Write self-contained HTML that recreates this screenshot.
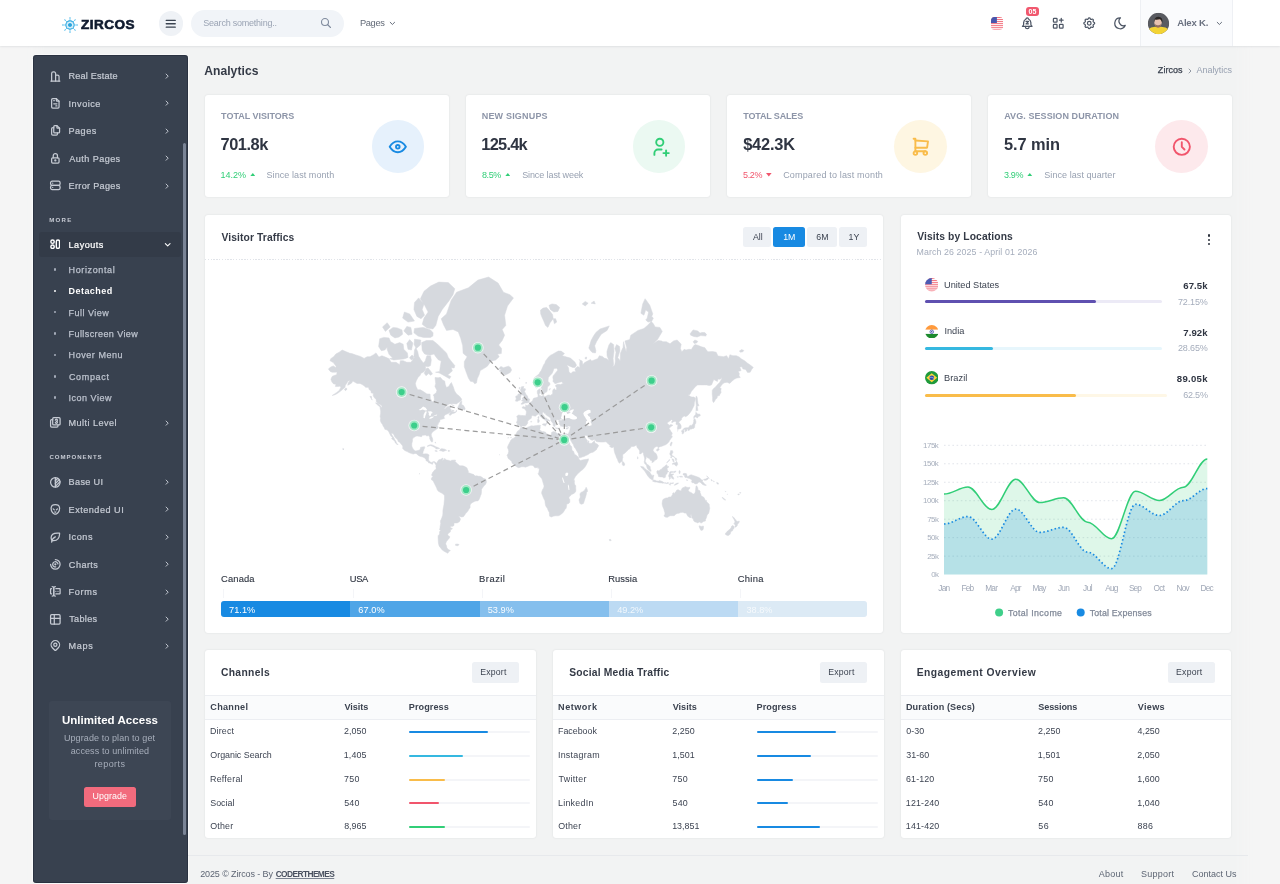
<!DOCTYPE html>
<html lang="en">
<head>
<meta charset="utf-8">
<title>Analytics | Zircos</title>
<style>
html,body{margin:0;padding:0}
body{position:relative;width:1280px;height:884px;overflow:hidden;background:#f5f5f5;font-family:"Liberation Sans",sans-serif;color:#343a46}
.b,.t,.i{position:absolute;display:block}
.t{white-space:nowrap;margin:0;font-weight:400}
h1.t,h2.t{font-weight:700}
</style>
</head>
<body>
<div class="b" style="left:44px;top:40px;width:1192px;height:860px;background:#f2f3f3;box-shadow:0 0 14px 6px #f2f3f3;"></div>
<header>
<div class="b" style="left:0px;top:0px;width:1280px;height:46.2px;background:#fff;box-shadow:0 .6px 2.2px rgba(60,70,90,.17);"></div>
<svg class="i" style="left:60.85px;top:15.5px;width:18px;height:18px" viewBox="-9 -9 18 18"><g stroke="#6cc6ee" stroke-width=".85" stroke-linecap="round"><line x1="0" y1="-4.6" x2="0" y2="-7.2" transform="rotate(0)"/><line x1="0" y1="-4.6" x2="0" y2="-7.2" transform="rotate(45)"/><line x1="0" y1="-4.6" x2="0" y2="-7.2" transform="rotate(90)"/><line x1="0" y1="-4.6" x2="0" y2="-7.2" transform="rotate(135)"/><line x1="0" y1="-4.6" x2="0" y2="-7.2" transform="rotate(180)"/><line x1="0" y1="-4.6" x2="0" y2="-7.2" transform="rotate(225)"/><line x1="0" y1="-4.6" x2="0" y2="-7.2" transform="rotate(270)"/><line x1="0" y1="-4.6" x2="0" y2="-7.2" transform="rotate(315)"/></g><g fill="#6cc6ee"><circle cx="0" cy="-7.2" r=".65" transform="rotate(0)"/><circle cx="0" cy="-7.2" r=".65" transform="rotate(45)"/><circle cx="0" cy="-7.2" r=".65" transform="rotate(90)"/><circle cx="0" cy="-7.2" r=".65" transform="rotate(135)"/><circle cx="0" cy="-7.2" r=".65" transform="rotate(180)"/><circle cx="0" cy="-7.2" r=".65" transform="rotate(225)"/><circle cx="0" cy="-7.2" r=".65" transform="rotate(270)"/><circle cx="0" cy="-7.2" r=".65" transform="rotate(315)"/></g><circle r="4.1" fill="#fff" stroke="#2aa5de" stroke-width="1.15"/><circle r="2.1" fill="#2aa5de"/><circle r="2.9" fill="none" stroke="#9ad8f3" stroke-width=".5"/></svg>
<span class="t" style="left:81.09px;top:17.44px;font-size:12.3px;line-height:16px;letter-spacing:0.432px;font-weight:700;color:#0f1a2e;-webkit-text-stroke:0.6px #0f1a2e;transform:scaleX(1.1);transform-origin:0 50%;">ZIRCOS</span>
<div class="b" style="left:158.7px;top:11.2px;width:24.4px;height:24.4px;background:#eff2f6;border-radius:13px;"></div>
<svg class="i" style="left:164.15px;top:16.65px;width:13.5px;height:13.5px;color:#3a4350;" viewBox="0 0 24 24" fill="none" stroke="currentColor" stroke-width="2.3" stroke-linecap="round" stroke-linejoin="round"><path d="M4 6l16 0"/><path d="M4 12l16 0"/><path d="M4 18l16 0"/></svg>
<div class="b" style="left:191.2px;top:9.5px;width:152.8px;height:27.5px;background:#f1f4f8;border-radius:14px;"></div>
<span class="t" style="left:203.29px;top:17.08px;font-size:9px;line-height:12px;letter-spacing:-0.227px;color:#9ba4b4;">Search something..</span>
<svg class="i" style="left:320.3px;top:17.3px;width:12px;height:12px;color:#7f8a9d;" viewBox="0 0 24 24" fill="none" stroke="currentColor" stroke-width="2.2" stroke-linecap="round" stroke-linejoin="round"><path d="M10 10m-7 0a7 7 0 1 0 14 0a7 7 0 1 0 -14 0"/><path d="M21 21l-6 -6"/></svg>
<span class="t" style="left:360.06px;top:16.68px;font-size:9.3px;line-height:12px;letter-spacing:-0.399px;color:#626a77;">Pages</span>
<svg class="i" style="left:388.4px;top:19.4px;width:8.8px;height:8.8px;color:#5d6573;" viewBox="0 0 24 24" fill="none" stroke="currentColor" stroke-width="2.6" stroke-linecap="round" stroke-linejoin="round"><path d="M6 9l6 6l6 -6"/></svg>
<svg class="i" style="left:990.9px;top:17px;width:12.2px;height:12.8px" viewBox="0 0 12.2 12.8"><defs><clipPath id="fc"><rect width="12.2" height="12.8" rx="3.6"/></clipPath></defs><g clip-path="url(#fc)"><rect width="12.2" height="12.8" fill="#fff"/><rect y="0" width="12.2" height="0.98" fill="#f3727f"/><rect y="1.97" width="12.2" height="0.98" fill="#f3727f"/><rect y="3.94" width="12.2" height="0.98" fill="#f3727f"/><rect y="5.91" width="12.2" height="0.98" fill="#f3727f"/><rect y="7.88" width="12.2" height="0.98" fill="#f3727f"/><rect y="9.85" width="12.2" height="0.98" fill="#f3727f"/><rect y="11.82" width="12.2" height="0.98" fill="#f3727f"/><rect width="5.9" height="6" fill="#4856ad"/></g></svg>
<svg class="i" style="left:1019.55px;top:15.95px;width:14.5px;height:14.5px;color:#4d5665;" viewBox="0 0 24 24" fill="none" stroke="currentColor" stroke-width="2.05" stroke-linecap="round" stroke-linejoin="round"><path d="M10 5a2 2 0 1 1 4 0a7 7 0 0 1 4 6v3a4 4 0 0 0 2 3h-16a4 4 0 0 0 2 -3v-3a7 7 0 0 1 4 -6"/><path d="M9 17v1a3 3 0 0 0 6 0v-1"/><path d="M10 9h4l-4 4h4"/></svg>
<div class="b" style="left:1026.2px;top:6.6px;width:12.6px;height:9.9px;background:#f1586e;border-radius:3px;"></div>
<span class="t" style="left:1028.58px;top:7.37px;font-size:7px;line-height:9px;font-weight:700;color:#fff;">05</span>
<svg class="i" style="left:1051.05px;top:15.95px;width:14.5px;height:14.5px;color:#4d5665;" viewBox="0 0 24 24" fill="none" stroke="currentColor" stroke-width="2.05" stroke-linecap="round" stroke-linejoin="round"><path d="M4 4m0 1a1 1 0 0 1 1 -1h4a1 1 0 0 1 1 1v4a1 1 0 0 1 -1 1h-4a1 1 0 0 1 -1 -1z"/><path d="M4 14m0 1a1 1 0 0 1 1 -1h4a1 1 0 0 1 1 1v4a1 1 0 0 1 -1 1h-4a1 1 0 0 1 -1 -1z"/><path d="M14 14m0 1a1 1 0 0 1 1 -1h4a1 1 0 0 1 1 1v4a1 1 0 0 1 -1 1h-4a1 1 0 0 1 -1 -1z"/><path d="M14 7l6 0"/><path d="M17 4l0 6"/></svg>
<svg class="i" style="left:1081.95px;top:15.95px;width:14.5px;height:14.5px;color:#4d5665;" viewBox="0 0 24 24" fill="none" stroke="currentColor" stroke-width="2.05" stroke-linecap="round" stroke-linejoin="round"><path d="M10.325 4.317c.426 -1.756 2.924 -1.756 3.35 0a1.724 1.724 0 0 0 2.573 1.066c1.543 -.94 3.31 .826 2.37 2.37a1.724 1.724 0 0 0 1.065 2.572c1.756 .426 1.756 2.924 0 3.35a1.724 1.724 0 0 0 -1.066 2.573c.94 1.543 -.826 3.31 -2.37 2.37a1.724 1.724 0 0 0 -2.572 1.065c-.426 1.756 -2.924 1.756 -3.35 0a1.724 1.724 0 0 0 -2.573 -1.066c-1.543 .94 -3.31 -.826 -2.37 -2.37a1.724 1.724 0 0 0 -1.065 -2.572c-1.756 -.426 -1.756 -2.924 0 -3.35a1.724 1.724 0 0 0 1.066 -2.573c-.94 -1.543 .826 -3.31 2.37 -2.37c1 .608 2.296 .07 2.572 -1.065z"/><path d="M9 12a3 3 0 1 0 6 0a3 3 0 0 0 -6 0"/></svg>
<svg class="i" style="left:1112.75px;top:15.95px;width:14.5px;height:14.5px;color:#4d5665;" viewBox="0 0 24 24" fill="none" stroke="currentColor" stroke-width="2.05" stroke-linecap="round" stroke-linejoin="round"><path d="M12 3c.132 0 .263 0 .393 0a7.5 7.5 0 0 0 7.92 12.446a9 9 0 1 1 -8.313 -12.454z"/></svg>
<div class="b" style="left:1139.5px;top:0px;width:93px;height:46px;background:#fafbfd;border-left:1px solid #eef0f4;border-right:1px solid #eef0f4;box-sizing:border-box;"></div>
<svg class="i" style="left:1147.3px;top:11.7px;width:23px;height:23px" viewBox="-0.75 -0.75 23.5 23.5"><defs><clipPath id="av"><circle cx="11" cy="11" r="10.9"/></clipPath></defs><circle cx="11" cy="11" r="11.4" fill="#fff"/><g clip-path="url(#av)"><rect width="22" height="22" fill="#595b61"/><path d="M0 22V17.5Q3 14.6 7.5 14.4H13.5Q18.5 14.6 22 17.5V22Z" fill="#f3d335"/><path d="M8.6 12.5H12.6V14.6Q10.6 16.2 8.6 14.6Z" fill="#b98472"/><ellipse cx="10.5" cy="9.9" rx="3.8" ry="4.7" fill="#e8c2b0"/><path d="M6.7 10.2Q6 4.6 10.6 4Q15.6 3.8 15 10.4Q14.2 7.6 12.6 6.6Q9.4 7.4 7.5 6.9Q6.8 8.4 6.7 10.2Z" fill="#2b2726"/><path d="M7.1 11.2Q7.6 14.9 10.5 14.9Q13.4 14.9 13.9 11.2Q13 12.9 10.5 12.7Q8 12.9 7.1 11.2Z" fill="#7a5548" fill-opacity=".75"/></g></svg>
<span class="t" style="left:1177.16px;top:17.17px;font-size:9.6px;line-height:12px;letter-spacing:-0.205px;font-weight:700;color:#6a7180;">Alex K.</span>
<svg class="i" style="left:1215.4px;top:19.3px;width:8.8px;height:8.8px;color:#5d6573;" viewBox="0 0 24 24" fill="none" stroke="currentColor" stroke-width="2.6" stroke-linecap="round" stroke-linejoin="round"><path d="M6 9l6 6l6 -6"/></svg>
</header>
<nav>
<div class="b" style="left:32.5px;top:55.3px;width:155.3px;height:828px;background:#38414f;border-radius:3.2px;box-shadow:0 0 0 .8px rgba(255,255,255,.7),inset 0 0 0 1px rgba(26,34,48,.45);"></div>
<svg class="i" style="left:48.85px;top:69.75px;width:12.7px;height:12.7px" viewBox="0 0 24 24" fill="none" stroke="#c6cbd4" stroke-width="2.35" stroke-linecap="round" stroke-linejoin="round"><path d="M3.5 21h17"/><path d="M5 21V6.5a3 3 0 0 1 3-3h1.5a3 3 0 0 1 3 3V21"/><path d="M12.5 9.5h3.5a3 3 0 0 1 3 3V21"/></svg><span class="t" style="left:68.58px;top:70.45px;font-size:9.1px;line-height:12px;letter-spacing:0.192px;color:#c6cbd4;-webkit-text-stroke:0.22px #c6cbd4;">Real Estate</span><svg class="i" style="left:162.65px;top:72.05px;width:8.3px;height:8.3px;color:#c6cbd4;" viewBox="0 0 24 24" fill="none" stroke="currentColor" stroke-width="2.8" stroke-linecap="round" stroke-linejoin="round"><path d="M9 6l6 6l-6 6"/></svg>
<svg class="i" style="left:48.85px;top:97.15px;width:12.7px;height:12.7px;color:#c6cbd4;" viewBox="0 0 24 24" fill="none" stroke="currentColor" stroke-width="2.35" stroke-linecap="round" stroke-linejoin="round"><path d="M14 3v4a1 1 0 0 0 1 1h4"/><path d="M17 21h-10a2 2 0 0 1 -2 -2v-14a2 2 0 0 1 2 -2h7l5 5v11a2 2 0 0 1 -2 2z"/><path d="M9 7l1 0"/><path d="M9 13l6 0"/><path d="M13 17l2 0"/></svg><span class="t" style="left:68.49px;top:97.85px;font-size:9.1px;line-height:12px;letter-spacing:0.51px;color:#c6cbd4;-webkit-text-stroke:0.22px #c6cbd4;">Invoice</span><svg class="i" style="left:162.65px;top:99.45px;width:8.3px;height:8.3px;color:#c6cbd4;" viewBox="0 0 24 24" fill="none" stroke="currentColor" stroke-width="2.8" stroke-linecap="round" stroke-linejoin="round"><path d="M9 6l6 6l-6 6"/></svg>
<svg class="i" style="left:48.85px;top:124.45px;width:12.7px;height:12.7px;color:#c6cbd4;" viewBox="0 0 24 24" fill="none" stroke="currentColor" stroke-width="2.35" stroke-linecap="round" stroke-linejoin="round"><path d="M15 3v4a1 1 0 0 0 1 1h4"/><path d="M18 17h-7a2 2 0 0 1 -2 -2v-10a2 2 0 0 1 2 -2h4l5 5v7a2 2 0 0 1 -2 2z"/><path d="M16 17v2a2 2 0 0 1 -2 2h-7a2 2 0 0 1 -2 -2v-10a2 2 0 0 1 2 -2h2"/></svg><span class="t" style="left:68.58px;top:125.15px;font-size:9.1px;line-height:12px;letter-spacing:0.457px;color:#c6cbd4;-webkit-text-stroke:0.22px #c6cbd4;">Pages</span><svg class="i" style="left:162.65px;top:126.75px;width:8.3px;height:8.3px;color:#c6cbd4;" viewBox="0 0 24 24" fill="none" stroke="currentColor" stroke-width="2.8" stroke-linecap="round" stroke-linejoin="round"><path d="M9 6l6 6l-6 6"/></svg>
<svg class="i" style="left:48.85px;top:151.85px;width:12.7px;height:12.7px;color:#c6cbd4;" viewBox="0 0 24 24" fill="none" stroke="currentColor" stroke-width="2.35" stroke-linecap="round" stroke-linejoin="round"><path d="M5 13a2 2 0 0 1 2 -2h10a2 2 0 0 1 2 2v6a2 2 0 0 1 -2 2h-10a2 2 0 0 1 -2 -2v-6z"/><path d="M11 16a1 1 0 1 0 2 0a1 1 0 0 0 -2 0"/><path d="M8 11v-4a4 4 0 1 1 8 0v4"/></svg><span class="t" style="left:69.31px;top:152.55px;font-size:9.1px;line-height:12px;letter-spacing:0.428px;color:#c6cbd4;-webkit-text-stroke:0.22px #c6cbd4;">Auth Pages</span><svg class="i" style="left:162.65px;top:154.15px;width:8.3px;height:8.3px;color:#c6cbd4;" viewBox="0 0 24 24" fill="none" stroke="currentColor" stroke-width="2.8" stroke-linecap="round" stroke-linejoin="round"><path d="M9 6l6 6l-6 6"/></svg>
<svg class="i" style="left:48.85px;top:179.25px;width:12.7px;height:12.7px;color:#c6cbd4;" viewBox="0 0 24 24" fill="none" stroke="currentColor" stroke-width="2.35" stroke-linecap="round" stroke-linejoin="round"><path d="M3 4m0 3a3 3 0 0 1 3 -3h12a3 3 0 0 1 3 3v2a3 3 0 0 1 -3 3h-12a3 3 0 0 1 -3 -3z"/><path d="M3 12m0 3a3 3 0 0 1 3 -3h12a3 3 0 0 1 3 3v2a3 3 0 0 1 -3 3h-12a3 3 0 0 1 -3 -3z"/><path d="M7 8l0 .01"/><path d="M7 16l0 .01"/></svg><span class="t" style="left:68.58px;top:179.95px;font-size:9.1px;line-height:12px;letter-spacing:0.318px;color:#c6cbd4;-webkit-text-stroke:0.22px #c6cbd4;">Error Pages</span><svg class="i" style="left:162.65px;top:181.55px;width:8.3px;height:8.3px;color:#c6cbd4;" viewBox="0 0 24 24" fill="none" stroke="currentColor" stroke-width="2.8" stroke-linecap="round" stroke-linejoin="round"><path d="M9 6l6 6l-6 6"/></svg>
<span class="t" style="left:49.3px;top:215.99px;font-size:6.1px;line-height:8px;letter-spacing:1.237px;font-weight:700;color:#c8ccd5;">MORE</span>
<div class="b" style="left:39.4px;top:232px;width:141.6px;height:24.6px;background:#333b48;border-radius:3px;"></div>
<svg class="i" style="left:49.8px;top:238.8px;width:10.4px;height:10.4px" viewBox="0 0 11 11" fill="none" stroke="#fff" stroke-width="1.5"><circle cx="2.7" cy="2.8" r="1.8"/><circle cx="2.7" cy="8.2" r="1.8"/><rect x="6.7" y="1" width="3.4" height="9" rx="1.7"/></svg><span class="t" style="left:68.58px;top:238.55px;font-size:9.1px;line-height:12px;letter-spacing:0.472px;color:#fff;-webkit-text-stroke:0.22px #fff;">Layouts</span><svg class="i" style="left:162.5px;top:240.2px;width:9.4px;height:9.4px;color:#fff;" viewBox="0 0 24 24" fill="none" stroke="currentColor" stroke-width="2.8" stroke-linecap="round" stroke-linejoin="round"><path d="M6 9l6 6l6 -6"/></svg>
<div class="b" style="left:53.8px;top:268.3px;width:2.6px;height:2.6px;background:#a4abb8;border-radius:0.9px;"></div>
<span class="t" style="left:68.61px;top:264.18px;font-size:9px;line-height:12px;letter-spacing:0.623px;color:#bcc2cd;-webkit-text-stroke:0.25px #bcc2cd;">Horizontal</span>
<div class="b" style="left:53.8px;top:289.6px;width:2.6px;height:2.6px;background:#f5f6f8;border-radius:0.9px;"></div>
<span class="t" style="left:68.62px;top:285.48px;font-size:9px;line-height:12px;letter-spacing:0.439px;font-weight:700;color:#fff;">Detached</span>
<div class="b" style="left:53.8px;top:310.9px;width:2.6px;height:2.6px;background:#a4abb8;border-radius:0.9px;"></div>
<span class="t" style="left:68.61px;top:306.78px;font-size:9px;line-height:12px;letter-spacing:0.464px;color:#bcc2cd;-webkit-text-stroke:0.25px #bcc2cd;">Full View</span>
<div class="b" style="left:53.8px;top:332.3px;width:2.6px;height:2.6px;background:#a4abb8;border-radius:0.9px;"></div>
<span class="t" style="left:68.61px;top:328.18px;font-size:9px;line-height:12px;letter-spacing:0.412px;color:#bcc2cd;-webkit-text-stroke:0.25px #bcc2cd;">Fullscreen View</span>
<div class="b" style="left:53.8px;top:353.6px;width:2.6px;height:2.6px;background:#a4abb8;border-radius:0.9px;"></div>
<span class="t" style="left:68.61px;top:349.48px;font-size:9px;line-height:12px;letter-spacing:0.55px;color:#bcc2cd;-webkit-text-stroke:0.25px #bcc2cd;">Hover Menu</span>
<div class="b" style="left:53.8px;top:375px;width:2.6px;height:2.6px;background:#a4abb8;border-radius:0.9px;"></div>
<span class="t" style="left:68.88px;top:370.88px;font-size:9px;line-height:12px;letter-spacing:0.683px;color:#bcc2cd;-webkit-text-stroke:0.25px #bcc2cd;">Compact</span>
<div class="b" style="left:53.8px;top:396.4px;width:2.6px;height:2.6px;background:#a4abb8;border-radius:0.9px;"></div>
<span class="t" style="left:68.52px;top:392.28px;font-size:9px;line-height:12px;letter-spacing:0.51px;color:#bcc2cd;-webkit-text-stroke:0.25px #bcc2cd;">Icon View</span>
<svg class="i" style="left:48.85px;top:416.25px;width:12.7px;height:12.7px;color:#c6cbd4;" viewBox="0 0 24 24" fill="none" stroke="currentColor" stroke-width="2.35" stroke-linecap="round" stroke-linejoin="round"><path d="M7 3m0 2a2 2 0 0 1 2 -2h10a2 2 0 0 1 2 2v10a2 2 0 0 1 -2 2h-10a2 2 0 0 1 -2 -2z"/><path d="M17 17v2a2 2 0 0 1 -2 2h-10a2 2 0 0 1 -2 -2v-10a2 2 0 0 1 2 -2h2"/><path d="M14 10a2 2 0 1 0 -2 -2"/><path d="M12 12a2 2 0 1 0 2 -2"/></svg><span class="t" style="left:68.58px;top:416.95px;font-size:9.1px;line-height:12px;letter-spacing:0.456px;color:#c6cbd4;-webkit-text-stroke:0.22px #c6cbd4;">Multi Level</span><svg class="i" style="left:162.65px;top:418.55px;width:8.3px;height:8.3px;color:#c6cbd4;" viewBox="0 0 24 24" fill="none" stroke="currentColor" stroke-width="2.8" stroke-linecap="round" stroke-linejoin="round"><path d="M9 6l6 6l-6 6"/></svg>
<span class="t" style="left:49.46px;top:453.19px;font-size:6.1px;line-height:8px;letter-spacing:0.95px;font-weight:700;color:#c8ccd5;">COMPONENTS</span>
<svg class="i" style="left:48.85px;top:475.75px;width:12.7px;height:12.7px;color:#c6cbd4;" viewBox="0 0 24 24" fill="none" stroke="currentColor" stroke-width="2.35" stroke-linecap="round" stroke-linejoin="round"><path d="M12 12m-9 0a9 9 0 1 0 18 0a9 9 0 1 0 -18 0"/><path d="M12 3l0 18"/><path d="M12 9l4.65 -4.65"/><path d="M12 14.3l7.37 -7.37"/><path d="M12 19.6l8.85 -8.85"/></svg><span class="t" style="left:68.58px;top:476.45px;font-size:9.1px;line-height:12px;letter-spacing:0.339px;color:#c6cbd4;-webkit-text-stroke:0.22px #c6cbd4;">Base UI</span><svg class="i" style="left:162.65px;top:478.05px;width:8.3px;height:8.3px;color:#c6cbd4;" viewBox="0 0 24 24" fill="none" stroke="currentColor" stroke-width="2.8" stroke-linecap="round" stroke-linejoin="round"><path d="M9 6l6 6l-6 6"/></svg>
<svg class="i" style="left:48.85px;top:503.15px;width:12.7px;height:12.7px;color:#c6cbd4;" viewBox="0 0 24 24" fill="none" stroke="currentColor" stroke-width="2.35" stroke-linecap="round" stroke-linejoin="round"><path d="M11 17a2.5 2.5 0 0 0 2 0"/><path d="M12 3c-4.664 0 -7.396 2.331 -7.862 5.595a11.816 11.816 0 0 0 2 8.592a10.777 10.777 0 0 0 3.199 3.064c1.666 1 3.664 1 5.33 0a10.777 10.777 0 0 0 3.199 -3.064a11.89 11.89 0 0 0 2 -8.592c-.466 -3.265 -3.198 -5.595 -7.862 -5.595z"/><path d="M8 11l2 2"/><path d="M16 11l-2 2"/></svg><span class="t" style="left:68.58px;top:503.85px;font-size:9.1px;line-height:12px;letter-spacing:0.503px;color:#c6cbd4;-webkit-text-stroke:0.22px #c6cbd4;">Extended UI</span><svg class="i" style="left:162.65px;top:505.45px;width:8.3px;height:8.3px;color:#c6cbd4;" viewBox="0 0 24 24" fill="none" stroke="currentColor" stroke-width="2.8" stroke-linecap="round" stroke-linejoin="round"><path d="M9 6l6 6l-6 6"/></svg>
<svg class="i" style="left:48.85px;top:530.55px;width:12.7px;height:12.7px;color:#c6cbd4;" viewBox="0 0 24 24" fill="none" stroke="currentColor" stroke-width="2.35" stroke-linecap="round" stroke-linejoin="round"><path d="M5 21c.5 -4.5 2.5 -8 7 -10"/><path d="M9 18c6.218 0 10.5 -3.288 11 -12v-2h-4.014c-9 0 -11.986 4 -12 9c0 1 0 3 2 5h3z"/></svg><span class="t" style="left:68.49px;top:531.25px;font-size:9.1px;line-height:12px;letter-spacing:0.567px;color:#c6cbd4;-webkit-text-stroke:0.22px #c6cbd4;">Icons</span><svg class="i" style="left:162.65px;top:532.85px;width:8.3px;height:8.3px;color:#c6cbd4;" viewBox="0 0 24 24" fill="none" stroke="currentColor" stroke-width="2.8" stroke-linecap="round" stroke-linejoin="round"><path d="M9 6l6 6l-6 6"/></svg>
<svg class="i" style="left:48.85px;top:557.95px;width:12.7px;height:12.7px;color:#c6cbd4;" viewBox="0 0 24 24" fill="none" stroke="currentColor" stroke-width="2.35" stroke-linecap="round" stroke-linejoin="round"><path d="M12 12m-1 0a1 1 0 1 0 2 0a1 1 0 1 0 -2 0"/><path d="M16.924 11.132a5 5 0 1 0 -4.056 5.792"/><path d="M3 12a9 9 0 1 0 9 -9"/></svg><span class="t" style="left:68.86px;top:558.65px;font-size:9.1px;line-height:12px;letter-spacing:0.451px;color:#c6cbd4;-webkit-text-stroke:0.22px #c6cbd4;">Charts</span><svg class="i" style="left:162.65px;top:560.25px;width:8.3px;height:8.3px;color:#c6cbd4;" viewBox="0 0 24 24" fill="none" stroke="currentColor" stroke-width="2.8" stroke-linecap="round" stroke-linejoin="round"><path d="M9 6l6 6l-6 6"/></svg>
<svg class="i" style="left:48.85px;top:585.25px;width:12.7px;height:12.7px;color:#c6cbd4;" viewBox="0 0 24 24" fill="none" stroke="currentColor" stroke-width="2.35" stroke-linecap="round" stroke-linejoin="round"><path d="M12 3a3 3 0 0 0 -3 3v12a3 3 0 0 0 3 3"/><path d="M6 3a3 3 0 0 1 3 3v12a3 3 0 0 1 -3 3"/><path d="M13 7h7a1 1 0 0 1 1 1v8a1 1 0 0 1 -1 1h-7"/><path d="M5 7h-1a1 1 0 0 0 -1 1v8a1 1 0 0 0 1 1h1"/><path d="M17 12h.01"/><path d="M13 12h.01"/></svg><span class="t" style="left:68.58px;top:585.95px;font-size:9.1px;line-height:12px;letter-spacing:0.682px;color:#c6cbd4;-webkit-text-stroke:0.22px #c6cbd4;">Forms</span><svg class="i" style="left:162.65px;top:587.55px;width:8.3px;height:8.3px;color:#c6cbd4;" viewBox="0 0 24 24" fill="none" stroke="currentColor" stroke-width="2.8" stroke-linecap="round" stroke-linejoin="round"><path d="M9 6l6 6l-6 6"/></svg>
<svg class="i" style="left:48.85px;top:612.65px;width:12.7px;height:12.7px;color:#c6cbd4;" viewBox="0 0 24 24" fill="none" stroke="currentColor" stroke-width="2.35" stroke-linecap="round" stroke-linejoin="round"><path d="M3 5a2 2 0 0 1 2 -2h14a2 2 0 0 1 2 2v14a2 2 0 0 1 -2 2h-14a2 2 0 0 1 -2 -2v-14z"/><path d="M3 10h18"/><path d="M10 3v18"/></svg><span class="t" style="left:69.13px;top:613.35px;font-size:9.1px;line-height:12px;letter-spacing:0.336px;color:#c6cbd4;-webkit-text-stroke:0.22px #c6cbd4;">Tables</span><svg class="i" style="left:162.65px;top:614.95px;width:8.3px;height:8.3px;color:#c6cbd4;" viewBox="0 0 24 24" fill="none" stroke="currentColor" stroke-width="2.8" stroke-linecap="round" stroke-linejoin="round"><path d="M9 6l6 6l-6 6"/></svg>
<svg class="i" style="left:48.85px;top:639.45px;width:12.7px;height:12.7px;color:#c6cbd4;" viewBox="0 0 24 24" fill="none" stroke="currentColor" stroke-width="2.35" stroke-linecap="round" stroke-linejoin="round"><path d="M9 11a3 3 0 1 0 6 0a3 3 0 0 0 -6 0"/><path d="M17.657 16.657l-4.243 4.243a2 2 0 0 1 -2.827 0l-4.244 -4.243a8 8 0 1 1 11.314 0z"/></svg><span class="t" style="left:68.58px;top:640.15px;font-size:9.1px;line-height:12px;letter-spacing:0.659px;color:#c6cbd4;-webkit-text-stroke:0.22px #c6cbd4;">Maps</span><svg class="i" style="left:162.65px;top:641.75px;width:8.3px;height:8.3px;color:#c6cbd4;" viewBox="0 0 24 24" fill="none" stroke="currentColor" stroke-width="2.8" stroke-linecap="round" stroke-linejoin="round"><path d="M9 6l6 6l-6 6"/></svg>
<div class="b" style="left:49.2px;top:701.3px;width:122.1px;height:118.8px;background:#3d4654;border-radius:3px;"></div>
<span class="t" style="left:61.91px;top:712.62px;font-size:11.5px;line-height:15px;letter-spacing:0.043px;font-weight:700;color:#fff;">Unlimited Access</span>
<span class="t" style="left:63.92px;top:731.88px;font-size:9px;line-height:12px;letter-spacing:0.096px;color:#a7aebb;">Upgrade to plan to get</span>
<span class="t" style="left:70.69px;top:744.98px;font-size:9px;line-height:12px;letter-spacing:0.103px;color:#a7aebb;">access to unlimited</span>
<span class="t" style="left:94.47px;top:757.88px;font-size:9px;line-height:12px;letter-spacing:0.402px;color:#a7aebb;">reports</span>
<div class="b" style="left:83.9px;top:787px;width:52.1px;height:20px;background:#f26b7d;border-radius:2.5px;"></div>
<span class="t" style="left:92.58px;top:790.32px;font-size:8.9px;line-height:12px;letter-spacing:0.065px;color:#fff;">Upgrade</span>
<div class="b" style="left:183.3px;top:142.6px;width:3.2px;height:692.4px;background:#7a8496;border-radius:2px;"></div>
</nav>
<main>
<h1 class="t" style="left:204.2px;top:63.31px;font-size:12.1px;line-height:16px;letter-spacing:0.055px;font-weight:700;color:#343a46;">Analytics</h1>
<span class="t" style="left:1157.86px;top:64.38px;font-size:9px;line-height:12px;letter-spacing:0.031px;color:#3c4350;-webkit-text-stroke:0.25px #3c4350;">Zircos</span>
<svg class="i" style="left:1185.6px;top:66.6px;width:8px;height:8px;color:#7d8593;" viewBox="0 0 24 24" fill="none" stroke="currentColor" stroke-width="2.5" stroke-linecap="round" stroke-linejoin="round"><path d="M9 6l6 6l-6 6"/></svg>
<span class="t" style="left:1196.6px;top:64.38px;font-size:9px;line-height:12px;letter-spacing:-0.061px;color:#98a1b1;">Analytics</span>
<div class="b" style="left:204.8px;top:94.6px;width:244px;height:102.6px;background:#fff;border-radius:3px;box-shadow:0 0 2px rgba(50,60,80,.13);"></div>
<span class="t" style="left:221.11px;top:109.78px;font-size:9px;line-height:12px;letter-spacing:-0.019px;font-weight:700;color:#8d95a8;">TOTAL VISITORS</span>
<span class="t" style="left:220.54px;top:133.72px;font-size:16.4px;line-height:21px;letter-spacing:-0.482px;font-weight:700;color:#2f3542;">701.8k</span>
<span class="t" style="left:220.53px;top:169.08px;font-size:9px;line-height:12px;letter-spacing:0.019px;color:#31ce77;">14.2%</span>
<svg class="i" style="left:249.6px;top:172.6px;width:5.6px;height:3.6px" viewBox="0 0 10 6"><path d="M0 6L5 0L10 6Z" fill="#31ce77"/></svg>
<span class="t" style="left:266.5px;top:169.08px;font-size:9px;line-height:12px;letter-spacing:0.076px;color:#98a1b1;">Since last month</span>
<div class="b" style="left:371.5px;top:119.65px;width:52.9px;height:52.9px;background:#e6f1fc;border-radius:27px;"></div>
<svg class="i" style="left:387.45px;top:135.55px;width:21.6px;height:21.6px;color:#188ae2;" viewBox="0 0 24 24" fill="none" stroke="currentColor" stroke-width="2.1" stroke-linecap="round" stroke-linejoin="round"><path d="M10 12a2 2 0 1 0 4 0a2 2 0 0 0 -4 0"/><path d="M21 12c-2.4 4 -5.4 6 -9 6c-3.6 0 -6.6 -2 -9 -6c2.4 -4 5.4 -6 9 -6c3.6 0 6.6 2 9 6"/></svg>
<div class="b" style="left:465.87px;top:94.6px;width:244px;height:102.6px;background:#fff;border-radius:3px;box-shadow:0 0 2px rgba(50,60,80,.13);"></div>
<span class="t" style="left:481.69px;top:109.78px;font-size:9px;line-height:12px;letter-spacing:0.191px;font-weight:700;color:#8d95a8;">NEW SIGNUPS</span>
<span class="t" style="left:481.29px;top:133.72px;font-size:16.4px;line-height:21px;letter-spacing:-0.736px;font-weight:700;color:#2f3542;">125.4k</span>
<span class="t" style="left:481.91px;top:169.08px;font-size:9px;line-height:12px;letter-spacing:-0.348px;color:#31ce77;">8.5%</span>
<svg class="i" style="left:504.87px;top:172.6px;width:5.6px;height:3.6px" viewBox="0 0 10 6"><path d="M0 6L5 0L10 6Z" fill="#31ce77"/></svg>
<span class="t" style="left:522.16px;top:169.08px;font-size:9px;line-height:12px;letter-spacing:-0.099px;color:#98a1b1;">Since last week</span>
<div class="b" style="left:632.57px;top:119.65px;width:52.9px;height:52.9px;background:#ebf9f2;border-radius:27px;"></div>
<svg class="i" style="left:648.52px;top:135.55px;width:21.6px;height:21.6px;color:#31ce77;" viewBox="0 0 24 24" fill="none" stroke="currentColor" stroke-width="2.1" stroke-linecap="round" stroke-linejoin="round"><path d="M8 7a4 4 0 1 0 8 0a4 4 0 0 0 -8 0"/><path d="M16 19h6"/><path d="M19 16v6"/><path d="M6 21v-2a4 4 0 0 1 4 -4h4"/></svg>
<div class="b" style="left:726.94px;top:94.6px;width:244px;height:102.6px;background:#fff;border-radius:3px;box-shadow:0 0 2px rgba(50,60,80,.13);"></div>
<span class="t" style="left:743.25px;top:109.78px;font-size:9px;line-height:12px;letter-spacing:-0.156px;font-weight:700;color:#8d95a8;">TOTAL SALES</span>
<span class="t" style="left:743.18px;top:133.72px;font-size:16.4px;line-height:21px;letter-spacing:-0.209px;font-weight:700;color:#2f3542;">$42.3K</span>
<span class="t" style="left:742.98px;top:169.08px;font-size:9px;line-height:12px;letter-spacing:-0.348px;color:#f1556c;">5.2%</span>
<svg class="i" style="left:765.94px;top:173.4px;width:5.6px;height:3.6px" viewBox="0 0 10 6"><path d="M0 0L5 6L10 0Z" fill="#f1556c"/></svg>
<span class="t" style="left:783.19px;top:169.08px;font-size:9px;line-height:12px;letter-spacing:0.17px;color:#98a1b1;">Compared to last month</span>
<div class="b" style="left:893.64px;top:119.65px;width:52.9px;height:52.9px;background:#fef6e2;border-radius:27px;"></div>
<svg class="i" style="left:909.59px;top:135.55px;width:21.6px;height:21.6px;color:#f9bc4a;" viewBox="0 0 24 24" fill="none" stroke="currentColor" stroke-width="2.1" stroke-linecap="round" stroke-linejoin="round"><path d="M6 19m-2 0a2 2 0 1 0 4 0a2 2 0 1 0 -4 0"/><path d="M17 19m-2 0a2 2 0 1 0 4 0a2 2 0 1 0 -4 0"/><path d="M17 17h-11v-14h-2"/><path d="M6 5l14 1l-1 7h-13"/></svg>
<div class="b" style="left:988.01px;top:94.6px;width:244px;height:102.6px;background:#fff;border-radius:3px;box-shadow:0 0 2px rgba(50,60,80,.13);"></div>
<span class="t" style="left:1004.18px;top:109.78px;font-size:9px;line-height:12px;letter-spacing:0.082px;font-weight:700;color:#8d95a8;">AVG. SESSION DURATION</span>
<span class="t" style="left:1003.92px;top:133.72px;font-size:16.4px;line-height:21px;letter-spacing:-0.07px;font-weight:700;color:#2f3542;">5.7 min</span>
<span class="t" style="left:1004.09px;top:169.08px;font-size:9px;line-height:12px;letter-spacing:-0.363px;color:#31ce77;">3.9%</span>
<svg class="i" style="left:1027.01px;top:172.6px;width:5.6px;height:3.6px" viewBox="0 0 10 6"><path d="M0 6L5 0L10 6Z" fill="#31ce77"/></svg>
<span class="t" style="left:1044.31px;top:169.08px;font-size:9px;line-height:12px;letter-spacing:0.063px;color:#98a1b1;">Since last quarter</span>
<div class="b" style="left:1154.71px;top:119.65px;width:52.9px;height:52.9px;background:#fde9ec;border-radius:27px;"></div>
<svg class="i" style="left:1170.66px;top:135.55px;width:21.6px;height:21.6px;color:#f1556c;" viewBox="0 0 24 24" fill="none" stroke="currentColor" stroke-width="2.1" stroke-linecap="round" stroke-linejoin="round"><path d="M3 12a9 9 0 1 0 18 0a9 9 0 0 0 -18 0"/><path d="M12 7v5l3 3"/></svg>
<div class="b" style="left:204.8px;top:214.7px;width:678.7px;height:418.7px;background:#fff;border-radius:3px;box-shadow:0 0 2px rgba(50,60,80,.13);"></div>
<h2 class="t" style="left:221.55px;top:230.53px;font-size:10.3px;line-height:13px;letter-spacing:0.089px;font-weight:700;color:#343a46;">Visitor Traffics</h2>
<div class="b" style="left:204.8px;top:259.1px;width:678.7px;height:1px;background:repeating-linear-gradient(90deg,#e1e4e9 0 1.4px,transparent 1.4px 2.8px);"></div>
<div class="b" style="left:743.4px;top:226.7px;width:27.8px;height:20.6px;background:#eef1f5;border-radius:2.5px;"></div>
<span class="t" style="left:752.88px;top:231.55px;font-size:8.8px;line-height:11px;color:#3c4350;">All</span>
<div class="b" style="left:773.4px;top:226.7px;width:31.3px;height:20.6px;background:#188ae2;border-radius:2.5px;"></div>
<span class="t" style="left:783.16px;top:231.55px;font-size:8.8px;line-height:11px;color:#fff;">1M</span>
<div class="b" style="left:807px;top:226.7px;width:30.2px;height:20.6px;background:#eef1f5;border-radius:2.5px;"></div>
<span class="t" style="left:816.32px;top:231.55px;font-size:8.8px;line-height:11px;color:#3c4350;">6M</span>
<div class="b" style="left:839.4px;top:226.7px;width:27.8px;height:20.6px;background:#eef1f5;border-radius:2.5px;"></div>
<span class="t" style="left:848.59px;top:231.55px;font-size:8.8px;line-height:11px;color:#3c4350;">1Y</span>
<svg class="i" style="left:300px;top:262px;width:480px;height:310px" viewBox="0 0 480 310"><path fill="#d6d9de" stroke="#d6d9de" stroke-width=".5" stroke-linejoin="round" d="M28.4 106.9L30.6 105.1L33.3 103.9L35.6 105.4L36.2 104.2L34.9 102.7L33.3 100.6L30 98.7L30.7 96.7L33.9 94.4L35.8 92L39.2 90.2L42.2 88L46.3 89.8L49.9 91.3L51.8 91.6L55.8 93L60.5 94.4L64.1 96.4L67.1 94.7L70 94.7L73.6 92.7L76 90.9L78.9 95.1L81.9 93.7L85.4 95.1L89 96.7L91.2 100.3L96.1 100.3L99.7 102.7L100.3 98.7L103.2 98.7L106.8 100.3L110.9 100.3L112.7 98L113.9 94.7L114.5 88L115.7 85.7L117.7 89.5L118.6 94.1L121 98L123.4 100.9L125.2 99L126.9 93.7L130.5 93.7L131.3 98L130.5 103.6L128.1 104.8L125.5 104.2L125.7 107.2L124 109.7L121 111.3L120.2 113.2L118 115.5L116.3 118.8L115.4 121.4L116 124.2L117.7 127.8L120.4 127.8L123.4 129.6L126.9 131.9L130.1 132.1L130.3 136.5L131.3 138.1L132.1 139.8L133.7 139.4L134.3 137.3L134 134.5L133.2 133.1L136.2 130.8L136.9 128.3L134.9 124.5L135.7 121.4L135 115.5L138.2 115.8L140.3 115.3L142.9 118.3L144.7 119L145.3 122.6L146.5 125.6L148.9 124.2L150 122.2L151.4 120.5L153.3 124.9L154.6 128.9L156.6 132.1L159.2 133.9L161.3 136.5L161.8 138.1L160.1 139.6L158 140.8L156.6 141.9L153 141.7L149 141.9L146.5 144.1L144.1 147.1L145 146.9L147.7 144.4L150.6 143.7L151.6 144.4L150 146.2L150.9 147.6L151.2 149L153.6 149.7L155.4 150.2L156.6 148.1L156.5 149.7L154.8 150.9L152.3 151.7L149.9 153.5L149.1 152.2L150.9 150.2L149.5 150.7L148.3 151.5L145.9 152.5L144.5 153.4L143.8 155L144.7 156.3L142.9 156.9L140.6 157.5L140 158.3L139.7 159.7L138.8 160.8L138.2 159.9L138.4 161.7L137.6 163.5L137.1 161.4L136.9 163.3L137.7 164.2L138.2 166.1L136.8 167L135.3 168.1L133.8 169.1L131.9 170.7L131.2 172.8L131.7 174.7L132.3 175.8L132.8 177.9L132.6 179.8L131.6 180.1L130.7 178.7L129.7 176.7L129.7 175.1L128.4 173.6L126.9 174L125.4 173L123.6 173.2L122.2 173.2L121.7 174.7L120.8 174.7L119.2 174.3L116.9 173.9L115.3 174.5L113.5 175.8L112.4 177L112.5 179.1L111.8 181.6L111.8 183.9L112.5 185.9L113.8 187.7L114.7 188.5L115.8 189L117.8 188.5L119.5 188.1L120.3 186.9L120.5 185.4L122.2 184.9L124.6 184.7L124.8 185.7L124 187.2L123.6 188.8L123 189.8L123 191.2L122.4 191.9L124 191.9L125.7 191.8L127.5 191.9L129.1 192.9L128.7 194.7L128.6 196.6L128.5 197.9L129.3 199L130.3 200.1L131.7 200.4L133 199.7L134.3 199.6L135.8 200.5L136.5 201.3L137.2 200.2L138.1 198.5L139 197.7L140.9 197.3L142.7 196L143.2 196.8L142.5 197.7L142.8 198.7L143.2 197.9L144.5 197.2L144.7 196.3L145.2 197.2L146.7 198.1L148.4 198.3L150.4 198.9L151.6 198.3L154.2 198.1L153.5 198.7L155.4 199.6L156.3 200.8L158 202.2L159.8 203.8L162.3 203.8L163.8 204.1L165.7 205.1L167 205.9L167.7 208.1L168.4 209L168.1 210.5L170.1 211.3L171.4 211.7L173.8 212.6L175.2 214L176.5 213.7L178.5 214.3L180.3 214.3L182.1 215.3L183.6 216.6L185.7 217.1L186.4 219.2L186.3 220.7L185.4 222.5L183.8 224.1L182.3 226.2L181.5 227.2L181.5 229.5L181.2 232.2L180.5 233.8L179.9 235.6L179.1 237.4L177.9 238.9L176 238.9L174.4 239.6L172.6 240.4L170.8 241.8L170.1 243.1L170.1 245.5L168.9 247.3L167.6 249.6L165.9 251.3L164.4 253.4L163.4 254.7L161.5 255L159.9 254.4L158.5 254.1L160 256L160.5 257.3L159.4 259.8L157.2 260.9L154 261L154 263.5L152.2 264.4L150.6 264L150.6 265.9L152.2 266.2L152.2 267.1L150.5 267.8L150.3 270.1L148.6 271.1L147.7 272.5L148.3 273.8L149.7 274.5L149.5 276.1L147.7 277.9L146.4 279.7L145.7 281.4L146 282.7L146.6 284L146.7 285.3L147.9 287.3L150.4 288.6L148.9 289.5L147.9 291.3L145.9 290.3L144.1 289.3L142.3 288.1L140.6 285.9L139.1 283.9L138.4 281L138.2 277.7L138.1 275.6L138.1 273.7L139.6 272.1L139.5 269.8L140.8 268.3L139.6 268L140 265.5L140.2 263.7L140.7 261.8L140.4 259.1L141 257.7L141.9 255.5L142.7 253.2L142.9 251L142.9 248.5L143.2 246.6L143.6 244.4L144 242.2L144.2 239.6L144.5 237.1L144.5 234.9L144.3 233.1L143.1 232.1L141.6 231.1L139.7 230.1L138.4 229.3L137.2 227.7L136.7 226L136.1 224.9L135.2 223.1L134.4 221.5L133.5 219.7L132.9 218.6L131.6 218L131.3 216.5L132.1 215.3L132.9 214.5L132.5 213.9L131.7 213.5L131.8 212.1L132.5 211.1L132.8 210L134 209.1L134.4 208.1L135.7 207.6L136.1 206.3L135.8 204.6L136 203.1L135.3 202.2L134.9 201.4L134.6 200.7L133.5 200.2L132.5 201L132.9 202L131.8 202.3L131 201.5L129.5 201L128.5 200.9L128.5 199.9L127.2 199.3L126.7 199.2L126 198.5L126.1 197.7L125 196.4L124 195.4L122.8 195.1L121 194.6L119.3 194.1L118.3 193.4L116.4 191.7L115.1 191.4L113.3 192.1L111.5 191.6L109.3 190.7L107.1 189.6L105.1 188.7L103.9 187.8L102.5 186.3L102.9 184.9L102.3 183.4L101.1 182.1L99.7 180.3L98 179.4L97.8 178L96.5 176.7L94.9 175.1L94 173.2L93.5 171.9L91.7 171.1L91.6 172.2L92.6 173.9L93.9 175.8L94.7 177.6L95.8 179.1L96.6 181.1L97.9 182.4L97.4 183L96.8 182.1L95.3 180.9L94.7 179.2L93.4 177.9L91.6 176.7L92.4 175.6L91.1 174.3L90.2 172.8L89.4 171.1L88.8 169.8L87.3 168L84.8 167.3L84.5 166L83.2 164.2L82.5 162.6L81.1 160.6L80.3 158.5L80.6 156.3L80.1 154.5L80.6 151.7L80.7 149L79.9 145.3L82.1 145.3L81.9 143.7L79.7 142.3L77.7 141.1L76.4 140L76.1 137.5L74.4 135.7L73.2 133.7L73.3 131.3L71.3 131L70.9 128.7L69.1 127.6L68.6 125.6L66.9 125.2L65.8 125.6L64.1 123.8L62.1 122.5L60 121.4L57 121.4L54.9 120.3L52.8 119L51.7 121L50.3 121.9L47.7 123.3L48.2 121L50.1 118.5L48.1 119L46.8 121.2L45.4 123.3L44.9 125.6L42.8 127.2L40.4 129.3L38 131L35.6 132.5L33.9 133.1L32.2 133.5L34.5 131.9L36.8 130.4L39.4 128.3L41 124.9L39.6 124.2L37.8 124.5L35.4 124.6L35.9 122.2L33.6 121.9L31.9 120L30.9 117.3L32.1 114.5L34.1 113.5L36.6 112.7L37.1 110L35.1 110.2L32.1 110.2L30.2 109.4ZM141.2 56.7L146.5 51.9L151.2 38.2L156.6 30.2L168.4 25.8L177.9 18.1L188.6 15L198.1 21.1L203.4 30.2L209.9 32.7L213.5 35.9L207.5 44L204.6 53.2L205.8 63.4L202.2 67.5L204.6 73.2L202.2 78.5L198.7 83L201.6 86.5L201.3 91.6L197.5 92L199.2 94.7L195.7 98L190.9 99.3L187.4 104.2L183.8 106.6L180.3 108.6L179.1 112.7L177.3 116.6L176.5 121L174.6 121.7L173.2 119.8L170.4 119.3L168.4 116L166.6 111.3L164.3 104.8L164.3 99.6L167.2 94.7L163.1 91.3L162.7 83.8L160.7 76.3L158.3 69.9L153 67.5L146.5 68.4L143.5 62.8ZM154.8 103.6L151.8 100L148.3 95.4L146.5 90.9L142.3 86.9L137.6 82.2L132.9 78.5L126.3 78.5L121.6 80.6L122.2 88.4L124.6 92L127.3 92.7L130.5 93L134 92L135.8 94.7L138.2 97.7L141.2 99L140.3 104.2L139.6 109.4L135.5 110.2L139 110.8L142.9 112.9L146.1 114.8L149.5 116.8L150.9 114.5L147.7 112.9L150.3 110.8L152.4 108.9L151.2 105.7L154.2 106ZM154.8 26.7L148.3 20.6L138.8 20.1L130.5 24L124 29.3L120.4 36.7L124.6 43.3L128.1 50L124 56.1L122.2 62.3L126.9 65.9L132.9 67L135.8 63.4L138.2 54.4L142.3 47.4L148.9 39L153 32.7ZM124 41.9L118.6 35.9L114.5 40.5L113.9 47.4L116.9 54.4L121 56.7L124.6 53.2L122.2 47.4ZM133.1 70.8L130.5 67.9L123.4 65.4L118.6 65.9L114.5 66.5L113.9 70.8L118 74.1L123.4 75.4L130.5 75.4L132.9 74.1ZM108 95.4L107.4 90.9L103.8 87.3L103.2 82.2L99.7 80.6L94.9 82.2L91.4 80.1L87.2 82.6L87.2 87.6L89 92.3L92.6 96.1L89.6 96.7L93.7 98L98.5 97.4L103.2 97.1L105.6 96.4ZM90.8 80.1L89 75.9L83.7 75.4L79.7 76.7L78.6 84.6L81.3 88.7L84.8 88L87.8 84.6ZM102.6 72.3L102 67.9L97.3 65.9L93.1 65.4L89 68.4L90.8 73.2L94.9 75.9L99.1 75ZM90.2 64.9L87.2 60.7L82.5 64.9L85.4 69.4ZM112.1 72.3L110.9 65.4L106.8 64.4L103.8 68.9L108 73.2ZM114.5 59L109.7 51.9L104.4 50L102.6 56.1L108 60.1ZM120.8 78L114.5 77.2L114.1 82.6L116.3 86.5L120.4 83ZM112.9 81L109.7 77.6L106.8 81.4L108 87.3L111.5 88ZM114.5 95.7L112.1 93L109.4 95.7L111.5 98ZM132.5 111.9L131.1 109.7L128.1 106L126.3 106.6L124.2 111.3L126 113.7L128.7 111.6L130.5 113.2ZM161.9 139.2L160.4 140L159.5 141.9L157.4 146.2L159.5 146.6L161.5 147.8L162.7 147.3L164.6 148.1L165.2 146.6L164.3 144.8L163.3 143.3L161.5 142.6ZM81.4 145.2L79.3 144.4L76.5 142.1L75.5 140.8L77.7 141.3L79.7 143ZM72.2 138.1L70.9 136.1L69.9 134.3L71.5 134.5L71.5 136.5ZM47.1 127.2L45.4 128.7L44.4 127.4L46.1 125.8ZM154.4 143.9L151.4 142.5L153 143.5ZM154.2 148.6L151.5 148L152.8 149.2ZM127.1 184.3L129.1 183L131.1 182.7L133.5 183.4L135.8 184.7L138 185.6L139.7 186.4L138.2 186.8L135.6 186.9L136.1 185.9L134.6 185.4L132.3 184.2L130.1 183.5L128.1 184.3ZM139.5 188.6L140.8 186.8L142.7 186.8L144.8 187.2L146.6 188.3L145.2 188.7L143.2 189.6L141.6 189ZM134.8 188.8L136.4 188.6L137.4 189.2L136.1 189.5ZM148 188.6L149.8 188.7L149.5 189.3L148 189.2ZM135 180.1L135.6 181.3L135.3 180ZM154.4 198.1L155.4 198L155.3 198.9L154.4 198.9ZM155.4 282.2L157.4 282L159.2 282.6L157.8 283.7L155.7 283.5ZM42.8 186.4L43.9 186.9L43.2 188L42.8 187.2ZM119.5 211.5L119.9 212L119.3 212.1ZM258.3 89.1L261.1 89.1L264.5 91.6L262.1 93.7L265 94.4L266.8 95.1L270.4 96.1L275.1 100.3L276.5 103.3L275.1 105.4L272.7 105.4L269.2 103.9L266.8 102.7L268.6 106L269 110L271 111.6L272.7 109.7L275.7 109.7L274.9 106.9L277.5 104.5L279.9 105.4L279.6 102.1L280.1 98.7L279 97.6L282.2 99L282.8 102.7L284.6 100.6L287 99.3L290.5 97.4L291.7 99L294.1 98L297.6 96.7L299.4 93.7L302.4 94.4L304.2 96.1L306.5 96.7L308.9 98.4L307.1 94.1L306.9 89.5L308.9 83L310.7 80.6L313.6 82.6L314 89.5L313.1 96.4L313.6 102.7L312.5 104.8L314.8 103L315.4 99L315.2 95.7L316 90.2L314.8 86.5L316.6 82.6L319.6 84.6L319.9 88.7L317.8 95.7L320.2 98.7L320.4 91.3L323.1 85.3L323.5 79.7L326.1 89.8L326.7 85.7L324.9 78.9L329.7 77.6L330.8 73.2L335 70.4L338 68.4L343.9 66.5L347.4 63.4L351.3 59.6L353.4 61.8L355.1 64.9L359.9 65.4L362.3 69.4L359.3 74.5L357.5 77.6L353.4 81.4L358.1 78.5L361.7 78.9L362.8 79.7L366.4 79.7L370 81.8L373.5 78.9L377.1 78L378.9 79.7L381.2 82.2L380.4 86.5L381.8 89.8L384.2 87.3L386 88L388.9 87.3L391.3 87.6L393.7 83.8L394.9 82.6L398.4 83.4L400.8 84.6L404.9 85.7L406.1 87.6L407.9 89.8L412.6 89.5L416.2 90.2L418 94.1L420.3 94.2L423.3 94.7L426.6 93.7L428.6 96.7L429.9 92.7L432.8 93.7L436.3 93.7L439.3 95.1L441.1 96.7L444.6 98.7L447.6 101.2L450.6 103.3L453.3 105.4L451.8 107.2L450.2 110.2L447.6 110.5L445.6 107.4L442.9 106.9L442 104.8L439.7 105.1L441.1 108.6L438.1 109.4L439.3 111.3L439.1 113.7L440.3 115.5L436.9 116L434.6 117.1L432.2 119L429.7 121.4L427.1 120.3L424.5 120.7L422.7 121.7L421.3 123.6L419.8 125.8L421.2 126.5L420.7 128.9L421.2 130.2L419.8 132.5L419.5 133.5L417.4 134.1L417.1 136.1L415.6 137.3L414.4 139.6L413.5 140.6L412.6 138.9L412.6 135.5L412.2 132.1L412.3 128.3L413.6 126.5L415 125.4L417.1 123.1L419.6 120.5L421.5 117.3L422.1 115.5L420.3 117.3L418 117.1L417.4 119.5L413.8 117.6L411.5 122.9L409.1 123.6L406.7 122.9L404.1 122.9L400.2 122.9L397.5 123L395.4 124.7L393.7 126.7L391.5 129.3L389.9 132.5L388 132.9L390.5 134.5L391.9 135.1L393.9 134.9L395.2 136.1L395.1 138.1L394.4 140.4L394.1 143.5L392.5 146.7L391.5 148.7L389.5 151.4L387.7 153.5L385.6 154.7L384.2 154L382.6 155.1L381.6 156.6L381.5 157.8L379.9 159.1L378.9 159.9L378.7 160.5L379.9 161.4L381 163.3L381.2 165.1L380.9 166.4L379.1 167L377.5 167.4L377.4 165.8L377.8 163.9L377.8 162.7L376.2 162.6L375.9 161.8L376.2 160.8L375.9 159.7L375.1 159.2L373.3 159.9L371.9 160.8L371.6 159.9L372.6 158.3L371.4 157.7L369.5 159.2L367.6 160.5L367.2 161.5L368.7 162.6L369 163.5L370.8 162.4L372.9 163.2L371.5 164.2L370.3 165.1L369.1 166.4L369.8 167.4L371 169.6L372.2 171.1L372.1 172.4L370.7 173.2L372.3 173.9L371.9 175.5L370.8 176.8L369.6 178.6L368.8 180.1L367.8 180.9L366.2 182.5L364.3 183.3L363.1 183.8L361.9 184.2L360.2 184.7L358.7 185.2L358.5 186.3L357.9 184.8L356.4 184.5L355 185.2L354.2 185.9L353.4 187.3L353 188.3L353.8 189.5L354.8 190.7L356.1 191.6L356.9 193.3L357.3 194.9L357.3 196.3L356.7 197.4L355.5 198.1L354.5 198.6L354.1 199.5L352.7 200.3L351.9 200.7L352.1 199.2L351.6 198.5L350.4 198.3L349.8 197.3L349 196.3L347.4 195.8L347 194.7L346.2 195L346.1 196.6L345.4 197.9L345.3 199.7L346.2 200.8L346.8 202.3L348 202.8L349 203.5L350.2 204.7L350.3 206.4L350.8 207.8L351.2 209.2L350.3 209.2L348.9 208.3L347.8 207.3L347.1 205.9L346.6 204.3L346.4 203.2L345.7 202.6L344.6 201.4L344.2 199.8L344.6 198.3L344.6 196.2L344 194.1L343.5 192.4L343.4 191.1L342.6 190.2L341.7 190.9L340.7 191.9L339.5 191.7L339.7 189.8L339.4 188.2L338.5 186.9L337.2 185.7L336.8 184.4L336.2 183.1L335 183.9L333.8 184.4L332.3 184.5L330.8 184.8L330.6 185.9L329.4 187L328.2 187.8L326.6 189.5L325.3 190.8L324 191.7L322.8 192.4L322.7 194.1L322.9 195.4L322.4 196.8L322.4 198.6L321.5 199.8L320.4 200.3L319.6 201.3L318.7 200.5L318 199L317.3 197.1L316.4 195.4L315.8 193.4L315 191.8L314.5 190.1L314.1 188L313.9 185.9L313.8 184.8L313.3 185.3L311.9 185.7L310.7 185.3L309.5 183.9L310.9 183L309.4 183L308.7 182L307.6 181.4L306.9 180.3L305.4 179.8L303.8 180L301.6 180.1L299.5 179.9L297.6 179.8L296.2 179.4L295.2 177.9L294.3 177.4L292.5 178.2L290.9 177.9L289.6 176.8L288.2 176L287.7 174.7L287 173.5L285.7 173.3L284.6 173.9L284.7 175L285.4 176L286.4 177.2L287.1 178.3L287.2 179.6L287.9 180.4L288 179.2L288.5 178.8L288.9 179.8L288.6 180.8L289.9 181.4L291.7 181.3L293.1 180L294.1 179.1L294.6 178.5L294.7 180.1L295.3 181.3L297.2 182.1L298.7 183.5L298 184.9L297.1 186.2L296.2 188L295.3 188.5L294.4 189.3L292.9 190.3L291.7 190.5L289.7 191.3L288.2 192.5L285.9 193.5L284 194.5L282 195L281 195.6L279.4 195.8L278.9 194.9L278.6 193.2L278.3 191.4L276.9 189.2L275.7 186.9L274.2 185L273.3 182.6L272.2 181.1L271.2 179.2L269.8 176.8L269.1 176.2L269.1 174.3L268.6 175.9L268.2 176.6L267.4 175.8L266.6 174.5L266.3 173.6L266 171.8L267.8 172.1L268.6 171.4L269.2 169.7L269.9 167.9L270.3 165.8L270.6 164.2L269.7 164.2L268.7 163.9L267.4 164.8L266.3 165L265 164.1L264 163.8L263.3 164.8L262.1 164.2L260.7 163.9L260.1 162.9L259.1 161.7L259.5 160.6L258.8 159.7L258.9 158.6L260.3 158.5L262 158.5L262.4 157.5L260.9 157L259.7 157.8L258.9 158L257.3 157.7L256.2 158L256.4 158.9L255.4 158.8L254.8 158.3L254.6 159.7L255.2 160.5L255 161.1L256.2 162L256.2 162.6L255.3 162.1L255.2 163L255.1 164.4L254.4 164.5L253.4 163.9L253 162.6L253.4 161.8L252.6 161.2L252.2 160.3L251.4 159.4L250.7 158.3L250.8 156.9L250.5 155.9L249.6 155.3L248.2 154.3L246.8 153.5L245.7 152.4L245.1 150.9L244.2 151.4L243.8 150L242.4 150.4L242.4 151.5L242.8 152.7L243.8 153.5L244.5 155.1L245.7 156.1L246.9 156.1L246.7 156.9L248.1 157.5L249.2 158.1L249.6 158.9L249.4 159.4L248.1 158.5L247.4 159.4L248 160.6L247.3 161.5L246.7 162.3L246.3 162L246.8 160.6L246.3 159.1L245.4 158.3L244.5 157.8L243.6 157L242.3 156.4L241.5 155.5L240.3 154.5L239.8 153L239.2 152.5L238.3 152L237.4 152.7L236.6 153L235.6 154.2L234.1 153.9L232.9 153.6L231.8 153.8L231.3 155L231.5 156.1L230.2 157L228.8 157.8L227.5 159.7L227.9 160.9L227 162L226.8 162.7L225.2 164.1L223.6 164.1L222.4 164.1L221.4 165L220.6 164.8L220.1 163.9L219.4 163.3L218.2 163.6L217.1 163.6L217.3 161.5L216.4 160.9L216.7 159.9L217.3 158.3L217.4 156.7L217.1 155.3L216.7 154.3L217.9 153.5L218.6 153L220.8 153.4L223.2 153.6L225.6 153.7L226.2 151.7L226.4 150L226.3 149L225.2 147.8L224.9 146.9L223.6 146.4L222.5 146.2L222.1 145.2L223.6 144.4L224.5 144.9L225.9 144.7L225.6 142.8L226.3 142.9L226.8 143.4L227.9 143.2L229.1 142.3L229.6 140.8L230.7 140.2L231.8 139.6L232.6 138.5L233.3 136.5L234.3 135.9L236 135.7L237.3 135.3L238.1 134.6L237.9 132.5L237.3 131.3L237.3 129.1L237.9 128L239.2 127.2L240.3 126.6L240 129.1L240.6 129.8L239.6 131.5L239.1 132.5L239.6 133.5L240.7 133.7L240.6 134.5L242 134.1L243.6 133.2L244.5 134.7L246.2 134.1L247.9 133.1L249.6 132.9L250 133.8L251.3 132.7L252.6 131.9L252.7 130.8L252.6 129.1L253.2 127.4L254.5 126.6L255.2 128L256.4 128L256.6 125.4L255.6 124.2L255.6 123.3L257 122.6L258.5 122.3L260.9 122.6L262.3 121.4L263.5 121.7L261.7 119.8L259.7 120.3L257.3 121L255 121.8L254 120.5L253 119.5L253.2 117.6L252.8 115.3L253.2 113.7L254.7 111.9L256.7 109.4L257.8 108L256.7 106.2L254 106.6L253 109.4L252 111.6L250.1 113.5L248.4 115.5L248.1 118.1L248.1 119.8L249.6 120.7L250.1 122.2L248.8 124L247.6 124.7L247.4 126.9L247.1 129.1L246.4 130.2L244.8 130.4L244.5 131.6L243.1 131.7L242.8 130.2L241.8 126.9L241 124.9L240.7 123.3L240.1 122.9L239.3 123.8L237.5 125.6L236 126.1L234.6 124.2L233.9 122.4L233.6 120L233.5 118.1L233.7 116.3L235.2 115L236.8 113.7L239 112.1L239.9 110.2L241.3 108.3L242.5 105.4L243.7 102.7L244.9 101.2L245.5 99L246.7 97.4L248.1 95.4L250.2 93.4L252.6 92.3L255.6 90.4ZM201 104.4L203.5 105.7L206.4 104.8L208.5 104.2L210.4 105.4L211.6 108L210.2 110.5L207.5 111.9L205.2 112.9L202.6 111.6L200.8 111.7L201.6 110.2L199.2 108.9L201.6 107.4L199 106.9L200.1 105.1ZM221.5 124.7L223.9 124.6L223.1 126.5L225.3 126.7L225.6 127.4L224.4 129.8L225.3 130.8L225.9 132.5L227.3 133.7L227.8 135.3L228.2 136.6L229.7 137.1L229.6 138.3L228.8 139.1L229.4 139.8L228.8 140.6L226.8 140.9L224.9 141.1L223.4 141.9L221.8 142.3L220.9 142.1L222.5 140.2L224 139.8L222.7 139.2L221.5 138.9L222.7 137.5L222.2 135.9L223.9 135.7L224.1 134.5L223.6 133.3L221.8 132.9L222 131.5L221.1 131.7L220.9 129.3L220.3 127.6L221.1 126.3ZM220.3 132.1L221.2 133.5L220.5 135.7L220.5 137.9L218.8 138.5L217.6 139.2L215.7 139.2L215.5 138.1L216.4 137.1L215.8 135.5L215.8 134.1L217.5 133.7L217.9 132.3L219 131.8ZM240.5 48.1L243.1 46.1L246.7 45.4L249 48.1L252.6 52.5L253.2 56.7L250.1 60.7L247.9 65.4L245.5 63.4L243.9 59.6L241.9 55L240.7 51.9ZM249 43.3L252 41.9L256.2 42.6L259.7 45.4L257.9 49.4L253.8 50L250.2 47.4ZM253.2 56.7L255.6 56.7L256.7 60.1L254.4 61.8ZM288.8 86.1L289.9 82.6L291.1 78.5L293.5 74.1L295.9 70.4L300 67L304.8 65.4L309.3 63.9L307.1 68.4L301.2 72.3L298.8 75.9L296.5 79.7L294.7 83.8L295.9 88.7L295.5 90.9L292.3 90.6L290.5 88.7ZM282.2 41.9L285.2 39.4L288.2 41.2L285.2 44ZM291.1 41.2L294.1 39L295.3 41.9ZM340.9 51.3L342.7 41.9L345.1 36.7L349.8 43.3L352.8 51.9L351 56.1L346.8 57.9L348.6 50L345.7 48.1L343.9 53.2ZM345.7 57.9L350.4 53.2L353.4 56.1L351.6 59.6L348 60.1ZM390.1 71.8L393.1 67.9L397.8 68.9L399.6 70.8L405.5 71.8L406.1 74.1L400.8 73.6L397.2 75L393.7 74.5L390.7 73.2ZM393.1 79.7L394.9 78L397.8 79.3L396.6 81L394.3 81.4ZM401.4 70.4L404.9 70.6L406.7 72.7L402.6 72.3ZM439.3 89.1L441.7 87.6L443.8 88.4L442.9 89.8L440.5 90.2ZM396.3 133.9L397.2 135.5L397.6 138.5L397.9 141.3L399 143.7L397.2 144.1L397.7 146.7L397.9 148.7L396.9 148.1L396 149.3L396 146.2L396.3 143.2L395.8 139.4L395.7 136.1ZM395.9 150.2L397.6 152L400 152.2L400.3 153.8L398.4 154.5L397.5 155.9L395.8 155L394.7 155L393.9 156.7L393.7 155.1L394.3 153.8L395.6 152.7ZM394.9 156.7L395.6 158.3L396 159.9L395.6 161.7L394.9 162.4L394.7 164.1L394.6 165.5L393.6 166.6L392.5 166.4L392.1 167L391.1 167.1L390.1 167.1L389.9 167.6L388.9 168.7L387.9 168.1L388 167.1L386.6 167.3L387.1 168.3L386.6 169L385.4 169.7L384.7 168.9L385.4 168L384.4 167.6L382.9 168L382.9 167.4L384.5 166.1L386 165.8L388.1 165.7L388.9 165.1L389.9 163.5L390.5 162.9L390.4 163.9L391.9 163.2L393.1 161.7L393.7 159.7L393.7 158.1L394 157.2ZM382.9 168.1L383.8 168.6L384.1 169.7L383.6 171.2L382.6 172.1L382.1 171.4L382.1 170L381.5 169.4L381.6 168.7ZM371.9 180L372.2 180.8L371.6 182.6L370.9 184.2L370.1 182.9L370.7 181.1L371.1 180.3ZM356.6 187.7L357.5 186.7L358.8 186.6L359.3 187.2L358.6 188.3L357.5 189L356.6 188.6ZM322.4 199.2L323.5 199.9L324.7 201.7L324.6 203.2L323.3 203.8L322.4 202.9L322.2 201.1ZM242.5 162.1L243.7 161.8L246.2 161.8L245.7 163.3L245.6 164.1L244.3 163.6L242.5 162.7ZM237.4 157.7L238.6 157.1L239.3 158.3L239.1 160.3L238.4 160.6L237.7 160.5L237.7 158.6ZM237.9 155.3L238.8 154.3L239 155.8L238.6 156.9L238.1 156.6ZM255.6 165.7L256.7 166L258.9 166.1L258.8 166.6L257 166.6L255.6 166.2ZM266 166.5L266.8 166L268.7 165.5L268 166.6L266.8 167.1L266.1 166.9ZM230.5 159.7L231.5 159.2L231.7 159.7L231.3 160.2ZM240.9 131L242.3 130.2L242.6 131.3L242 132.5L241 132.1ZM249.3 127.6L250.2 126.3L250 127.6L249.4 128.3ZM255.2 160.8L256.3 161.2L256.9 162.1ZM260.7 164.8L261.1 164.5L260.9 165.1ZM337.6 194.7L338 196L337.6 197.1ZM219.2 115.8L220 116L219.6 116.8ZM225.9 120L226.5 120.7L226 121.7ZM219.2 125.4L220.2 125.4L219.3 127.2ZM285.2 95.4L286.7 95.1L286.4 97.1L285.1 96.7ZM377.3 168.9L378.1 168.7L377.8 169.1ZM287.5 178.7L287.7 178.8L287.6 179.2ZM220.7 165.4L221.4 165.2L224.1 166.1L225.3 166.4L227.1 165.4L229.5 164.4L231.3 163.8L233.6 163.9L236.6 163.6L239.3 163.2L240.7 163.6L240.1 164.7L240.3 165.8L239.7 167.6L240.7 168.7L242.5 169.7L243.5 169.6L245.7 170.3L246.4 171.7L248.4 172.4L250.5 173.2L251.4 172.2L251.5 170.5L253.2 169.6L255.1 170L257.3 171.4L259.7 171.8L262.1 172.4L263.3 171.7L264.5 171.5L266 171.8L266.3 173.6L266.1 174.1L266.8 175.9L267.8 177.4L268.6 179.2L269.8 181.6L269.9 182.9L271.4 184.2L271.8 185.4L271.9 187.2L272.2 188.5L273.5 189.2L274.5 192.2L276.5 193.4L278.1 195.1L279 196.1L278.7 197.1L280.5 198.4L282.2 198L284.6 197.5L286.4 197.3L288.5 196.8L288.3 198.5L287.3 200.8L286.1 203.2L284.6 205.6L282.8 207.6L281.4 208.5L279.3 210.3L277.5 212.1L276.5 213.3L275.4 214.5L274.8 215.8L274.2 216.8L273.7 218.3L274.5 219.2L274.3 221L274.9 222.8L275.8 223.7L275.7 225.8L275.9 228.3L275.5 230.1L273.9 231.4L271.6 232.5L270.7 233.6L269.1 234.9L268.8 236.1L269.8 237.6L269.8 240.2L269 241.3L266.7 242.3L266.6 244.2L266.1 246.3L264.8 247.7L263.6 249.9L261.5 252.1L259.7 253.2L258.2 253.8L255.6 253.8L253.8 254.1L251.4 255L249.6 254.2L249.4 252.4L249.3 250.6L248.1 248.2L247.3 246.3L245.7 243.9L245.2 241.5L244.9 238.8L243.7 236.4L242.5 233.6L241.7 231.6L241.7 230.1L242.5 227.7L243.6 226L244.1 224L243.3 221.6L242.3 218.1L241.7 216.4L240.1 214.7L239 213.3L238.1 211.7L238.8 210.4L239.1 208.5L239.3 206.9L239 206.2L237.9 205.4L236.2 205.7L234.8 205.8L233.6 204.3L232.8 203.4L230.9 203.3L229.1 203.8L227.5 204.4L225.3 205.2L224 204.8L221.8 204.7L220 205.3L218.7 205.7L217 205L214.9 203.4L214.1 202.7L212.9 202.1L211.9 200.8L211.9 199.8L210.4 198.3L209.8 197.8L207.9 196.2L207.8 195L207 193.3L208.1 191.7L208.7 189.2L208.3 187.4L207.5 185.7L207.7 184.4L208.9 182L210.2 179.6L210.6 178.6L212.3 176.7L214.1 175.9L215.6 174.5L216.2 172.9L216.1 171.7L217.6 169L219.6 167.9L220.3 166.3ZM286.1 225.2L287.1 227.1L287.6 229.5L286.6 230.1L286.3 232.6L285.1 236.4L284.1 239.6L283.5 241.4L281.6 242.3L279.9 241.5L279 238L280.3 235.1L279.9 232L280.9 230.4L282.6 229.7L284.4 228.4L285.6 226.4ZM207.7 175.8L208.6 175.5L208.1 176.3ZM210.7 175.4L211.3 175.2L211.1 176.2ZM274.2 217.8L274.5 218.1L274.3 218.6ZM237.9 206.5L238.3 206.7L237.9 207.1ZM199.6 192.7L200 192.9L199.6 193ZM309.3 277.5L310.7 277.4L311.2 278.6L309.7 278.8ZM396.6 223.7L397.8 225.8L397.9 227.9L399.1 228.2L400.1 229.1L400.1 230.7L400.9 232.3L401.1 233.7L402.8 234.7L404.1 235.6L404.8 237.3L405.2 238.2L406.5 238.4L406.6 239.7L407.9 240.9L409.2 242.2L409.3 244.2L409.8 246.2L409.3 248.2L409 250.3L408.4 251.7L407.5 252.5L406.9 253.8L406.5 255.5L405.6 257.4L405.5 258.9L403.5 259.4L402 260.4L401.1 261.3L400.2 260.3L399.1 260L397.8 260.9L396.3 260.3L394.6 259.8L393.4 258.3L393.1 256.6L391.7 256.1L391.9 255L391.2 253.2L391.1 251.8L390.6 253.5L391.1 255.4L389.9 255.7L388.8 254.8L388 254.5L386.8 252.4L386 251.1L384.2 251L383 250.3L380.6 250.6L378.9 251.3L377.1 251.4L375.5 252.4L374.2 253.7L372.3 253.7L370 253.7L368.8 254.5L367.6 255.3L365.8 255.2L364.2 254.3L364 253.2L364.9 252.8L364.9 250.7L364.3 249L363.9 247.3L363.1 245.5L362.4 243.6L362.1 241.5L362.3 240L362.5 238.4L363 237.4L364.6 236.6L366 235.9L367.4 235.9L368.8 235.1L370.6 234.9L371.7 234L372.6 232.6L372.6 231.4L373.5 230.6L374.2 231.7L374.9 230.5L376.1 229.5L376.5 228.3L377.8 227.7L379.1 228L379.8 228.8L381.2 228.8L381.5 227.2L382.4 226L383 225.5L384.2 225.5L384.9 224.5L386 224.9L388 225.5L389.8 225.2L389.8 226.4L388.8 227.2L388.3 228.6L389.5 229.9L391.1 230.5L392.7 231.7L393.9 232.1L394.9 231.1L395.4 229.3L395.6 227.5L395.8 225.8L396 224.3ZM399.2 263.8L401.4 264.4L403.4 264L403.5 265.9L403 267.8L401.7 268.4L400.8 268.3L400 266.7L399.2 264.9ZM432.4 254.4L433.4 255.2L434.5 256L434.9 257.6L435.9 257.7L436.3 259.1L437.8 259.5L439.3 259.1L439.1 260.6L438.1 261.5L437.5 262.3L437.3 263.5L435.8 265.2L434.8 264.8L435.3 263.2L434.6 262.3L433.7 261.6L434.7 260.9L434.9 259.4L434.3 257.9L433.1 256.1ZM432.4 263.5L433.7 264.1L434.3 265.4L433.7 266.7L432.8 267.8L432.6 268.8L430.9 269.6L430.2 272.1L429 273.3L427.3 273.5L426 272.8L425.1 272.1L426.3 270.4L427.5 269.1L429.2 267.8L430.7 266.3L431.4 265.1L431.7 264ZM383 211.8L384.8 211.3L386.6 211.8L386.8 213.3L387.7 214.8L389.3 213.5L391.1 212.7L393.1 213.4L394.9 214L397 214.8L399 215.5L400.4 216.6L401.7 217.9L402.9 218.1L402.3 219.2L403.4 220.5L404.9 222.3L406.4 223.2L405.5 223.5L403.7 223.1L402.2 222.2L400.8 220.7L399.4 220.1L398.2 220.4L397.5 221.6L396 221.9L394.9 221.7L393.4 220.7L392.2 220.8L391.3 219.6L392.2 219L391.3 217.5L389.5 216.5L388 216.1L386.3 215.4L385.1 215.6L384.4 214.2L386 213.7L384.2 213.4L383 212.6ZM403.5 217.4L405.5 217L407.3 216L408.4 216L407.9 217.2L406.1 218.3L404.3 218.3ZM406.5 214L408.1 214.9L409.1 216.4L408.3 215.6L407.1 214.5ZM411.1 217.4L412.5 218.7L411.8 219L411.1 218ZM416.6 220.4L418.3 220.9L418.4 222.2L417.1 221.9ZM413.3 218.9L414.4 219.6L413.8 219.8ZM422.1 235.2L423.9 236.4L425.7 238L424.8 238L423 236.8ZM437.9 232L439.4 232.1L439.1 232.8L437.9 232.7ZM439.5 230.7L441.1 230.6L440.3 231.2ZM425.3 228.9L425.9 229.5L425.4 229.7ZM427.1 232L427.5 232.3L427 232.3ZM340.7 204.3L342.1 204.7L343.3 204.7L344.2 205.9L345.7 207.1L346.8 208.3L348 208.8L349.8 210.1L350.8 212L351.6 213L352.2 213.6L353.4 214.5L353.2 216.2L353.1 217.8L351.7 217.8L350.4 216.7L349 215.6L347.8 214.1L346.8 212.4L345.9 211L344.9 209.2L343.6 208.1L342.5 206.6L340.9 205.2ZM352.4 219L353.6 218L355.4 218.3L356.6 218.9L358.7 219.1L359.3 218.6L361.2 219.1L363.4 220.1L363.3 221.3L361.3 220.9L358.9 220.7L356.9 220.1L355.4 220.1L353.8 219.7ZM356.9 209L357.7 208.5L359.3 209.1L359.8 207.9L361.7 207.1L362.8 205.6L364.6 204.4L366.2 202.7L367.2 203.4L367.1 204.3L369 204.7L367.8 205.8L367.1 206.6L367.5 208.5L368.8 209.7L367.4 210L367 211.8L365.8 212.7L365.6 214.5L365.2 215.5L363.7 215.8L362.3 214.9L360.5 214.9L358.5 214.5L358.2 212.7L357.2 211.6L356.9 210.4ZM369.7 210L370.9 209.4L373.3 209.7L375.3 209.2L376.1 209L375.1 210.4L373.5 210.3L371.4 210.4L370.2 212L371.7 212L373.9 212L372.7 213L372 213.3L372.9 214.8L373.8 216.2L373.5 217.3L372.7 216.7L371.9 216.5L371.1 214.8L370.4 214.5L370.4 216.6L369.5 217.5L369.2 215.1L368.5 214.1L369.1 212.4L369.7 211ZM363.4 220.5L364.9 220.8L364.3 221.4ZM365.1 220.8L366 220.8L365.7 221.5L367.6 220.5L368.8 220.9L367.9 221.5L366.4 221.6ZM369.8 220.9L371.7 221L373.5 220.7L373.3 221.4L371.1 221.6L369.8 221.4ZM368.8 222.2L370.3 222.4L370.9 223.1L369.4 222.7ZM374.2 223.2L375.3 222L376.5 221.3L378.6 220.9L377.7 221.9L375.9 222.8L374.7 223.3ZM378.9 210L379.4 208.4L380.3 209.1L379.7 210.3L380.4 210.7L379.4 211.8L379.1 210.9ZM379.4 214.5L381.2 214.2L382.8 214.9L381.6 215.1L380 215.1ZM377.2 214.7L378.4 214.7L377.9 215.4ZM352.7 212.9L354 213.6L353.6 214.5ZM386.8 217.5L387.5 218.3L386.9 219ZM370.7 188.6L372.6 188.7L372.9 190.4L371.9 192.1L371.9 193.6L373.3 194.1L374.7 195.2L374.8 195.8L373.8 194.9L372.3 194.5L371 194.5L370.7 193.5L370 192.7L369.8 191.3L370.4 190.2ZM370.4 194.9L371.6 195L371.4 196.2ZM375.1 196L376.2 196.1L376.7 197.7L375.9 198.9L375.7 197.9L375.2 197.3ZM372.3 196.8L373.6 197.2L373.9 198.5L374.2 199.6L373 199.7L372.8 198.3L372.2 197.9ZM366.6 200.9L368.2 199.7L369.5 198.3L369.4 197.4L368.5 198.7L367.1 200.2ZM372.3 201.6L374 200.7L375.4 200.8L376.5 199.3L377.5 201L377.7 202.6L377.1 203.5L376.4 204.1L375.7 203.8L374.7 202.8L374 202L372.6 202.6Z"/><path fill="#fff" d="M118.6 148.1L121 146.6L123.1 144.6L125.7 145.7L127.3 148.3L125.2 148.5L122.8 147.6L120.4 148.3ZM123.5 155.9L123.6 152.7L125.2 149.5L126.9 149.5L126.2 151.7L125.3 154L124.8 156.3ZM127.6 149.5L131.1 149.3L132.9 151L131.3 151.5L130.7 153.7L129.7 154L128.7 152.7L128.9 150.9ZM128.8 156.4L131.1 154.8L134 154.5L133.1 155.6L130.8 156.7ZM133.2 153.8L135.2 152.9L137.2 152.5L137 153.5L134.6 153.8ZM260.9 156.1L261.6 153.7L261.8 151.7L262.9 150.5L263.7 149.2L265.5 148.3L266.8 149.2L266.3 150.4L267.5 151.9L269.2 151.2L270.9 150.7L269.2 149.9L269.8 148.7L272.2 147.6L274.2 147.4L273 149.2L272.3 150.7L271.6 151.5L273.3 152.4L274.9 153.7L276.9 155.1L276.9 156.7L275.1 157.5L272.7 157.5L271 157L269.2 155.9L267.4 155.9L265.6 156.4L263.9 157.4L262.3 157.2ZM286.1 148.8L288.2 147.8L290.3 148.1L290.8 150.4L288.8 151.5L287.4 152.2L288.4 154L290.1 155.1L290.3 157L291.5 157.8L290.5 159.9L291.5 161.5L291.6 163.3L289.3 164.1L287.3 163.2L285.8 161.7L286.1 159.5L287.3 158.5L286.1 157L285 155.1L283.9 153.5L283.3 151.5L284.1 150ZM265.4 211.4L266.8 210.4L268.2 210.9L268.1 212.7L267.2 214L265.6 213.9L265.3 212.7ZM262.4 214.9L263.1 216.2L264 219L264.6 221.1L263.7 220.9L262.7 218.5L262.2 216.4ZM268 222.2L269 224L269.3 226.4L269.4 228L268.6 227.9L268.2 225.8L267.9 224Z"/><g fill="none" stroke="#9b9b9b" stroke-width="1.2" stroke-dasharray="5 3.4"><line x1="101.6" y1="130.1" x2="264.2" y2="177.9"/><line x1="114.2" y1="163.5" x2="264.2" y2="177.9"/><line x1="166.1" y1="228" x2="264.2" y2="177.9"/><line x1="351.6" y1="118.7" x2="264.2" y2="177.9"/><line x1="351.2" y1="165.3" x2="264.2" y2="177.9"/><line x1="237.7" y1="120.3" x2="264.2" y2="177.9"/><line x1="264.6" y1="145.2" x2="264.2" y2="177.9"/><line x1="177.9" y1="85.7" x2="264.2" y2="177.9"/></g><circle cx="101.6" cy="130.1" r="5.8" fill="#fff" fill-opacity=".7"/><circle cx="101.6" cy="130.1" r="4.9" fill="#a3e8c6"/><circle cx="101.6" cy="130.1" r="3.1" fill="#3ccf8b"/><circle cx="114.2" cy="163.5" r="5.8" fill="#fff" fill-opacity=".7"/><circle cx="114.2" cy="163.5" r="4.9" fill="#a3e8c6"/><circle cx="114.2" cy="163.5" r="3.1" fill="#3ccf8b"/><circle cx="166.1" cy="228" r="5.8" fill="#fff" fill-opacity=".7"/><circle cx="166.1" cy="228" r="4.9" fill="#a3e8c6"/><circle cx="166.1" cy="228" r="3.1" fill="#3ccf8b"/><circle cx="351.6" cy="118.7" r="5.8" fill="#fff" fill-opacity=".7"/><circle cx="351.6" cy="118.7" r="4.9" fill="#a3e8c6"/><circle cx="351.6" cy="118.7" r="3.1" fill="#3ccf8b"/><circle cx="351.2" cy="165.3" r="5.8" fill="#fff" fill-opacity=".7"/><circle cx="351.2" cy="165.3" r="4.9" fill="#a3e8c6"/><circle cx="351.2" cy="165.3" r="3.1" fill="#3ccf8b"/><circle cx="237.7" cy="120.3" r="5.8" fill="#fff" fill-opacity=".7"/><circle cx="237.7" cy="120.3" r="4.9" fill="#a3e8c6"/><circle cx="237.7" cy="120.3" r="3.1" fill="#3ccf8b"/><circle cx="264.6" cy="145.2" r="5.8" fill="#fff" fill-opacity=".7"/><circle cx="264.6" cy="145.2" r="4.9" fill="#a3e8c6"/><circle cx="264.6" cy="145.2" r="3.1" fill="#3ccf8b"/><circle cx="177.9" cy="85.7" r="5.8" fill="#fff" fill-opacity=".7"/><circle cx="177.9" cy="85.7" r="4.9" fill="#a3e8c6"/><circle cx="177.9" cy="85.7" r="3.1" fill="#3ccf8b"/><circle cx="264.2" cy="177.9" r="5.8" fill="#fff" fill-opacity=".7"/><circle cx="264.2" cy="177.9" r="4.9" fill="#a3e8c6"/><circle cx="264.2" cy="177.9" r="3.1" fill="#3ccf8b"/></svg>
<span class="t" style="left:221.09px;top:573.04px;font-size:9.4px;line-height:12px;letter-spacing:0.121px;color:#2f3541;-webkit-text-stroke:0.12px #2f3541;">Canada</span>
<span class="t" style="left:349.86px;top:573.04px;font-size:9.4px;line-height:12px;letter-spacing:-0.416px;color:#2f3541;-webkit-text-stroke:0.12px #2f3541;">USA</span>
<span class="t" style="left:479.11px;top:573.04px;font-size:9.4px;line-height:12px;letter-spacing:0.479px;color:#2f3541;-webkit-text-stroke:0.12px #2f3541;">Brazil</span>
<span class="t" style="left:608.31px;top:573.04px;font-size:9.4px;line-height:12px;letter-spacing:0.034px;color:#2f3541;-webkit-text-stroke:0.12px #2f3541;">Russia</span>
<span class="t" style="left:737.79px;top:573.04px;font-size:9.4px;line-height:12px;letter-spacing:0.267px;color:#2f3541;-webkit-text-stroke:0.12px #2f3541;">China</span>
<div class="b" style="left:223.4px;top:589px;width:1px;height:8.5px;background:#f4f5f8;"></div>
<div class="b" style="left:352.65px;top:589px;width:1px;height:8.5px;background:#f4f5f8;"></div>
<div class="b" style="left:481.9px;top:589px;width:1px;height:8.5px;background:#f4f5f8;"></div>
<div class="b" style="left:611.15px;top:589px;width:1px;height:8.5px;background:#f4f5f8;"></div>
<div class="b" style="left:740.4px;top:589px;width:1px;height:8.5px;background:#f4f5f8;"></div>
<div class="b" style="left:221px;top:600.8px;width:646.2px;height:16.6px;background:#f3f5f8;border-radius:3px;overflow:hidden;"><div class="b" style="left:0px;top:0;width:129.4px;height:17px;background:rgba(24,138,226,1)"></div><div class="b" style="left:129.3px;top:0;width:129.4px;height:17px;background:rgba(24,138,226,0.75)"></div><div class="b" style="left:258.6px;top:0;width:129.4px;height:17px;background:rgba(24,138,226,0.5)"></div><div class="b" style="left:387.9px;top:0;width:129.4px;height:17px;background:rgba(24,138,226,0.25)"></div><div class="b" style="left:517.2px;top:0;width:129.4px;height:17px;background:rgba(24,138,226,0.1)"></div></div>
<span class="t" style="left:229.04px;top:603.81px;font-size:9.2px;line-height:12px;letter-spacing:0.05px;color:rgba(255,255,255,1);">71.1%</span>
<span class="t" style="left:358.34px;top:603.81px;font-size:9.2px;line-height:12px;letter-spacing:0.05px;color:rgba(255,255,255,1);">67.0%</span>
<span class="t" style="left:487.73px;top:603.81px;font-size:9.2px;line-height:12px;letter-spacing:0.027px;color:rgba(255,255,255,0.95);">53.9%</span>
<span class="t" style="left:617.22px;top:603.81px;font-size:9.2px;line-height:12px;letter-spacing:-0.019px;color:rgba(255,255,255,0.8);">49.2%</span>
<span class="t" style="left:746.38px;top:603.81px;font-size:9.2px;line-height:12px;letter-spacing:0.016px;color:rgba(255,255,255,0.75);">38.8%</span>
<div class="b" style="left:900.7px;top:214.7px;width:330.8px;height:418.7px;background:#fff;border-radius:3px;box-shadow:0 0 2px rgba(50,60,80,.13);"></div>
<h2 class="t" style="left:917.15px;top:229.53px;font-size:10.3px;line-height:13px;letter-spacing:0.113px;font-weight:700;color:#343a46;">Visits by Locations</h2>
<span class="t" style="left:916.5px;top:247.25px;font-size:8.8px;line-height:11px;letter-spacing:0.11px;color:#a5adbc;">March 26 2025 - April 01 2026</span>
<div class="b" style="left:1207.5px;top:234.4px;width:2.2px;height:2.2px;background:#2b303b;border-radius:1.1px;"></div>
<div class="b" style="left:1207.5px;top:238.7px;width:2.2px;height:2.2px;background:#2b303b;border-radius:1.1px;"></div>
<div class="b" style="left:1207.5px;top:243px;width:2.2px;height:2.2px;background:#2b303b;border-radius:1.1px;"></div>
<svg class="i" style="left:924.65px;top:278.15px;width:13.5px;height:13.5px" viewBox="0 0 20 20"><defs><clipPath id="f1"><circle cx="10" cy="10" r="10"/></clipPath></defs><g clip-path="url(#f1)"><rect width="20" height="20" fill="#fff"/><rect y="0" width="20" height="1.54" fill="#f3707d"/><rect y="3.08" width="20" height="1.54" fill="#f3707d"/><rect y="6.15" width="20" height="1.54" fill="#f3707d"/><rect y="9.23" width="20" height="1.54" fill="#f3707d"/><rect y="12.31" width="20" height="1.54" fill="#f3707d"/><rect y="15.38" width="20" height="1.54" fill="#f3707d"/><rect y="18.46" width="20" height="1.54" fill="#f3707d"/><rect width="10" height="9.3" fill="#4c5bb3"/></g></svg><svg class="i" style="left:924.65px;top:324.75px;width:13.5px;height:13.5px" viewBox="0 0 20 20"><defs><clipPath id="f2"><circle cx="10" cy="10" r="10"/></clipPath></defs><g clip-path="url(#f2)"><rect width="20" height="20" fill="#fff"/><rect width="20" height="6.8" fill="#ff9a3c"/><rect y="13.2" width="20" height="6.8" fill="#1c8a2e"/><circle cx="10" cy="10" r="2.6" fill="none" stroke="#1f2f9c" stroke-width="1"/><circle cx="10" cy="10" r="1" fill="#1f2f9c"/></g></svg><svg class="i" style="left:924.65px;top:371.35px;width:13.5px;height:13.5px" viewBox="0 0 20 20"><defs><clipPath id="f3"><circle cx="10" cy="10" r="10"/></clipPath></defs><g clip-path="url(#f3)"><rect width="20" height="20" fill="#1f9a3c"/><path d="M10 3.4L18 10L10 16.6L2 10Z" fill="#ffd33d"/><circle cx="10" cy="10" r="3.5" fill="#2b49a8"/><path d="M6.6 9.3Q10 8.6 13.4 10.9" fill="none" stroke="#fff" stroke-width=".7"/></g></svg>
<span class="t" style="left:944.01px;top:278.71px;font-size:9.2px;line-height:12px;color:#3c4350;">United States</span>
<span class="t" style="left:1183.26px;top:280.07px;font-size:9.6px;line-height:12px;letter-spacing:0.072px;font-weight:700;color:#2f3542;">67.5k</span>
<span class="t" style="left:1177.95px;top:295.78px;font-size:9px;line-height:12px;letter-spacing:-0.118px;color:#a5adbc;">72.15%</span>
<div class="b" style="left:924.6px;top:300.2px;width:237.3px;height:3.1px;background:#eceaf6;border-radius:2px;"><div class="b" style="left:0;top:0;height:3.1px;width:171.21px;background:#5f50b0;border-radius:2px"></div></div>
<span class="t" style="left:944.47px;top:325.41px;font-size:9.2px;line-height:12px;letter-spacing:-0.034px;color:#3c4350;">India</span>
<span class="t" style="left:1183.22px;top:326.77px;font-size:9.6px;line-height:12px;letter-spacing:0.084px;font-weight:700;color:#2f3542;">7.92k</span>
<span class="t" style="left:1177.95px;top:342.48px;font-size:9px;line-height:12px;letter-spacing:-0.118px;color:#a5adbc;">28.65%</span>
<div class="b" style="left:924.6px;top:346.9px;width:237.3px;height:3.1px;background:#e7f6fc;border-radius:2px;"><div class="b" style="left:0;top:0;height:3.1px;width:67.99px;background:#35b8e0;border-radius:2px"></div></div>
<span class="t" style="left:943.96px;top:372.01px;font-size:9.2px;line-height:12px;letter-spacing:0.078px;color:#3c4350;">Brazil</span>
<span class="t" style="left:1176.81px;top:373.37px;font-size:9.6px;line-height:12px;letter-spacing:0.273px;font-weight:700;color:#2f3542;">89.05k</span>
<span class="t" style="left:1183.15px;top:389.08px;font-size:9px;line-height:12px;letter-spacing:-0.188px;color:#a5adbc;">62.5%</span>
<div class="b" style="left:924.6px;top:393.5px;width:242.4px;height:3.1px;background:#fef7e6;border-radius:2px;"><div class="b" style="left:0;top:0;height:3.1px;width:151.5px;background:#f9bc4a;border-radius:2px"></div></div>
<svg class="i" style="left:900px;top:430px;width:332px;height:200px" viewBox="0 0 332 200"><g stroke="#e1e4ea" stroke-width="1" stroke-dasharray="1.6 2.6"><line x1="44" y1="126.13" x2="307.3" y2="126.13"/><line x1="44" y1="107.66" x2="307.3" y2="107.66"/><line x1="44" y1="89.19" x2="307.3" y2="89.19"/><line x1="44" y1="70.72" x2="307.3" y2="70.72"/><line x1="44" y1="52.25" x2="307.3" y2="52.25"/><line x1="44" y1="33.78" x2="307.3" y2="33.78"/><line x1="44" y1="15.31" x2="307.3" y2="15.31"/></g><path d="M44 64.07C52.38 64.07 59.56 57.05 67.94 57.05C76.31 57.05 83.49 79.59 91.87 79.59C100.25 79.59 107.43 49.29 115.81 49.29C124.19 49.29 131.37 72.57 139.75 72.57C148.12 72.57 155.3 67.76 163.68 67.76C172.06 67.76 179.24 92.15 187.62 92.15C196 92.15 203.18 108.77 211.55 108.77C219.93 108.77 227.11 61.34 235.49 61.34C243.87 61.34 251.05 70.5 259.43 70.5C267.81 70.5 274.99 57.2 283.36 57.2C291.74 57.2 298.92 28.98 307.3 28.98L307.3 144.6L44 144.6Z" fill="#31ce77" fill-opacity=".16"/><path d="M44 93.99C52.38 93.99 59.56 86.6 67.94 86.6C76.31 86.6 83.49 109.14 91.87 109.14C100.25 109.14 107.43 79.07 115.81 79.07C124.19 79.07 131.37 102.34 139.75 102.34C148.12 102.34 155.3 97.32 163.68 97.32C172.06 97.32 179.24 122.14 187.62 122.14C196 122.14 203.18 138.62 211.55 138.62C219.93 138.62 227.11 74.27 235.49 74.27C243.87 74.27 251.05 85.5 259.43 85.5C267.81 85.5 274.99 70.72 283.36 70.72C291.74 70.72 298.92 58.53 307.3 58.53L307.3 144.6L44 144.6Z" fill="#188ae2" fill-opacity=".2"/><path d="M44 64.07C52.38 64.07 59.56 57.05 67.94 57.05C76.31 57.05 83.49 79.59 91.87 79.59C100.25 79.59 107.43 49.29 115.81 49.29C124.19 49.29 131.37 72.57 139.75 72.57C148.12 72.57 155.3 67.76 163.68 67.76C172.06 67.76 179.24 92.15 187.62 92.15C196 92.15 203.18 108.77 211.55 108.77C219.93 108.77 227.11 61.34 235.49 61.34C243.87 61.34 251.05 70.5 259.43 70.5C267.81 70.5 274.99 57.2 283.36 57.2C291.74 57.2 298.92 28.98 307.3 28.98" fill="none" stroke="#31ce77" stroke-width="1.5" stroke-linecap="butt"/><path d="M44 93.99C52.38 93.99 59.56 86.6 67.94 86.6C76.31 86.6 83.49 109.14 91.87 109.14C100.25 109.14 107.43 79.07 115.81 79.07C124.19 79.07 131.37 102.34 139.75 102.34C148.12 102.34 155.3 97.32 163.68 97.32C172.06 97.32 179.24 122.14 187.62 122.14C196 122.14 203.18 138.62 211.55 138.62C219.93 138.62 227.11 74.27 235.49 74.27C243.87 74.27 251.05 85.5 259.43 85.5C267.81 85.5 274.99 70.72 283.36 70.72C291.74 70.72 298.92 58.53 307.3 58.53" fill="none" stroke="#188ae2" stroke-width="1.7" stroke-dasharray="1.5 2.4"/><circle cx="99.1" cy="182.6" r="4" fill="#3fcf8a"/><circle cx="180.7" cy="182.6" r="4" fill="#188ae2"/></svg>
<span class="t" style="left:1007.95px;top:607.95px;font-size:8.8px;line-height:11px;letter-spacing:0.38px;color:#818998;-webkit-text-stroke:0.25px #818998;">Total Income</span>
<span class="t" style="left:1089.65px;top:607.95px;font-size:8.8px;line-height:11px;letter-spacing:0.182px;color:#818998;-webkit-text-stroke:0.25px #818998;">Total Expenses</span>
<span class="t" style="left:931.17px;top:570.26px;font-size:7.9px;line-height:10px;letter-spacing:-0.648px;color:#a7afbd;">0k</span>
<span class="t" style="left:927.13px;top:551.79px;font-size:7.9px;line-height:10px;letter-spacing:-0.495px;color:#a7afbd;">25k</span>
<span class="t" style="left:927.14px;top:533.32px;font-size:7.9px;line-height:10px;letter-spacing:-0.498px;color:#a7afbd;">50k</span>
<span class="t" style="left:927.13px;top:514.85px;font-size:7.9px;line-height:10px;letter-spacing:-0.495px;color:#a7afbd;">75k</span>
<span class="t" style="left:923.04px;top:496.38px;font-size:7.9px;line-height:10px;letter-spacing:-0.442px;color:#a7afbd;">100k</span>
<span class="t" style="left:923.04px;top:477.91px;font-size:7.9px;line-height:10px;letter-spacing:-0.442px;color:#a7afbd;">125k</span>
<span class="t" style="left:923.04px;top:459.44px;font-size:7.9px;line-height:10px;letter-spacing:-0.442px;color:#a7afbd;">150k</span>
<span class="t" style="left:923.04px;top:440.97px;font-size:7.9px;line-height:10px;letter-spacing:-0.442px;color:#a7afbd;">175k</span>
<span class="t" style="left:938.27px;top:582.92px;font-size:8.3px;line-height:11px;letter-spacing:-0.764px;color:#a0a8b7;">Jan</span>
<span class="t" style="left:961.43px;top:582.92px;font-size:8.3px;line-height:11px;letter-spacing:-0.797px;color:#a0a8b7;">Feb</span>
<span class="t" style="left:985.26px;top:582.92px;font-size:8.3px;line-height:11px;letter-spacing:-0.812px;color:#a0a8b7;">Mar</span>
<span class="t" style="left:1010.17px;top:582.92px;font-size:8.3px;line-height:11px;letter-spacing:-0.769px;color:#a0a8b7;">Apr</span>
<span class="t" style="left:1032.47px;top:582.92px;font-size:8.3px;line-height:11px;letter-spacing:-0.901px;color:#a0a8b7;">May</span>
<span class="t" style="left:1057.95px;top:582.92px;font-size:8.3px;line-height:11px;letter-spacing:-0.764px;color:#a0a8b7;">Jun</span>
<span class="t" style="left:1083.11px;top:582.92px;font-size:8.3px;line-height:11px;letter-spacing:-0.598px;color:#a0a8b7;">Jul</span>
<span class="t" style="left:1105.27px;top:582.92px;font-size:8.3px;line-height:11px;letter-spacing:-0.857px;color:#a0a8b7;">Aug</span>
<span class="t" style="left:1128.92px;top:582.92px;font-size:8.3px;line-height:11px;letter-spacing:-0.844px;color:#a0a8b7;">Sep</span>
<span class="t" style="left:1153.54px;top:582.92px;font-size:8.3px;line-height:11px;letter-spacing:-0.752px;color:#a0a8b7;">Oct</span>
<span class="t" style="left:1176.49px;top:582.92px;font-size:8.3px;line-height:11px;letter-spacing:-0.847px;color:#a0a8b7;">Nov</span>
<span class="t" style="left:1200.51px;top:582.92px;font-size:8.3px;line-height:11px;letter-spacing:-0.834px;color:#a0a8b7;">Dec</span>
<div class="b" style="left:204.8px;top:650px;width:330.8px;height:188px;background:#fff;border-radius:3px;box-shadow:0 0 2px rgba(50,60,80,.13);"></div><h2 class="t" style="left:220.99px;top:665.83px;font-size:10.3px;line-height:13px;letter-spacing:0.332px;font-weight:700;color:#343a46;">Channels</h2><div class="b" style="left:471.6px;top:662.2px;width:47.8px;height:20.6px;background:#eef1f5;border-radius:2.5px;"></div><span class="t" style="left:480.2px;top:666.69px;font-size:8.7px;line-height:11px;letter-spacing:0.199px;color:#3c4350;">Export</span><div class="b" style="left:204.8px;top:695px;width:330.8px;height:25px;background:#fafbfc;box-shadow:inset 0 1px 0 #eceef2,inset 0 -1px 0 #eceef2;"></div><span class="t" style="left:210.34px;top:701.45px;font-size:9.1px;line-height:12px;letter-spacing:0.284px;font-weight:700;color:#3c4350;">Channel</span><span class="t" style="left:344.45px;top:701.45px;font-size:9.1px;line-height:12px;letter-spacing:-0.03px;font-weight:700;color:#3c4350;">Visits</span><span class="t" style="left:408.81px;top:701.45px;font-size:9.1px;line-height:12px;letter-spacing:0.08px;font-weight:700;color:#3c4350;">Progress</span><span class="t" style="left:209.99px;top:725.32px;font-size:8.9px;line-height:12px;letter-spacing:0.177px;color:#3d4452;">Direct</span><span class="t" style="left:344.06px;top:725.32px;font-size:8.9px;line-height:12px;letter-spacing:0.027px;color:#3d4452;">2,050</span><div class="b" style="left:409px;top:731px;width:121.2px;height:2px;background:#f4f5f8;border-radius:1px;"><div class="b" style="left:0;top:0;height:2px;width:78.78px;background:#188ae2;border-radius:1px"></div></div><span class="t" style="left:210.3px;top:749.07px;font-size:8.9px;line-height:12px;letter-spacing:-0.014px;color:#3d4452;">Organic Search</span><span class="t" style="left:343.83px;top:749.07px;font-size:8.9px;line-height:12px;letter-spacing:0.093px;color:#3d4452;">1,405</span><div class="b" style="left:409px;top:754.75px;width:121.2px;height:2px;background:#f4f5f8;border-radius:1px;"><div class="b" style="left:0;top:0;height:2px;width:53.93px;background:#35b8e0;border-radius:1px"></div></div><span class="t" style="left:209.99px;top:772.82px;font-size:8.9px;line-height:12px;letter-spacing:0.239px;color:#3d4452;">Refferal</span><span class="t" style="left:344.06px;top:772.82px;font-size:8.9px;line-height:12px;letter-spacing:0.319px;color:#3d4452;">750</span><div class="b" style="left:409px;top:778.5px;width:121.2px;height:2px;background:#f4f5f8;border-radius:1px;"><div class="b" style="left:0;top:0;height:2px;width:36.36px;background:#f9bc4a;border-radius:1px"></div></div><span class="t" style="left:210.3px;top:796.57px;font-size:8.9px;line-height:12px;letter-spacing:-0.015px;color:#3d4452;">Social</span><span class="t" style="left:344.14px;top:796.57px;font-size:8.9px;line-height:12px;letter-spacing:0.274px;color:#3d4452;">540</span><div class="b" style="left:409px;top:802.25px;width:121.2px;height:2px;background:#f4f5f8;border-radius:1px;"><div class="b" style="left:0;top:0;height:2px;width:30.3px;background:#f1556c;border-radius:1px"></div></div><span class="t" style="left:210.3px;top:820.32px;font-size:8.9px;line-height:12px;letter-spacing:0.16px;color:#3d4452;">Other</span><span class="t" style="left:344.14px;top:820.32px;font-size:8.9px;line-height:12px;letter-spacing:0.016px;color:#3d4452;">8,965</span><div class="b" style="left:409px;top:826px;width:121.2px;height:2px;background:#f4f5f8;border-radius:1px;"><div class="b" style="left:0;top:0;height:2px;width:36.36px;background:#31ce77;border-radius:1px"></div></div>
<div class="b" style="left:552.8px;top:650px;width:330.8px;height:188px;background:#fff;border-radius:3px;box-shadow:0 0 2px rgba(50,60,80,.13);"></div><h2 class="t" style="left:569.14px;top:665.83px;font-size:10.3px;line-height:13px;letter-spacing:0.209px;font-weight:700;color:#343a46;">Social Media Traffic</h2><div class="b" style="left:819.6px;top:662.2px;width:47.8px;height:20.6px;background:#eef1f5;border-radius:2.5px;"></div><span class="t" style="left:828.2px;top:666.69px;font-size:8.7px;line-height:11px;letter-spacing:0.199px;color:#3c4350;">Export</span><div class="b" style="left:552.8px;top:695px;width:330.8px;height:25px;background:#fafbfc;box-shadow:inset 0 1px 0 #eceef2,inset 0 -1px 0 #eceef2;"></div><span class="t" style="left:558.11px;top:701.45px;font-size:9.1px;line-height:12px;letter-spacing:0.491px;font-weight:700;color:#3c4350;">Network</span><span class="t" style="left:672.75px;top:701.45px;font-size:9.1px;line-height:12px;letter-spacing:-0.03px;font-weight:700;color:#3c4350;">Visits</span><span class="t" style="left:756.51px;top:701.45px;font-size:9.1px;line-height:12px;letter-spacing:0.08px;font-weight:700;color:#3c4350;">Progress</span><span class="t" style="left:557.99px;top:725.32px;font-size:8.9px;line-height:12px;letter-spacing:-0.015px;color:#3d4452;">Facebook</span><span class="t" style="left:672.35px;top:725.32px;font-size:8.9px;line-height:12px;letter-spacing:0.027px;color:#3d4452;">2,250</span><div class="b" style="left:756.7px;top:731px;width:121.2px;height:2px;background:#f4f5f8;border-radius:1px;"><div class="b" style="left:0;top:0;height:2px;width:79.39px;background:#188ae2;border-radius:1px"></div></div><span class="t" style="left:557.9px;top:749.07px;font-size:8.9px;line-height:12px;letter-spacing:0.272px;color:#3d4452;">Instagram</span><span class="t" style="left:672.13px;top:749.07px;font-size:8.9px;line-height:12px;letter-spacing:0.105px;color:#3d4452;">1,501</span><div class="b" style="left:756.7px;top:754.75px;width:121.2px;height:2px;background:#f4f5f8;border-radius:1px;"><div class="b" style="left:0;top:0;height:2px;width:54.54px;background:#188ae2;border-radius:1px"></div></div><span class="t" style="left:558.52px;top:772.82px;font-size:8.9px;line-height:12px;letter-spacing:0.284px;color:#3d4452;">Twitter</span><span class="t" style="left:672.35px;top:772.82px;font-size:8.9px;line-height:12px;letter-spacing:0.319px;color:#3d4452;">750</span><div class="b" style="left:756.7px;top:778.5px;width:121.2px;height:2px;background:#f4f5f8;border-radius:1px;"><div class="b" style="left:0;top:0;height:2px;width:36.36px;background:#188ae2;border-radius:1px"></div></div><span class="t" style="left:557.99px;top:796.57px;font-size:8.9px;line-height:12px;letter-spacing:0.258px;color:#3d4452;">LinkedIn</span><span class="t" style="left:672.44px;top:796.57px;font-size:8.9px;line-height:12px;letter-spacing:0.274px;color:#3d4452;">540</span><div class="b" style="left:756.7px;top:802.25px;width:121.2px;height:2px;background:#f4f5f8;border-radius:1px;"><div class="b" style="left:0;top:0;height:2px;width:30.91px;background:#188ae2;border-radius:1px"></div></div><span class="t" style="left:558.3px;top:820.32px;font-size:8.9px;line-height:12px;letter-spacing:0.16px;color:#3d4452;">Other</span><span class="t" style="left:672.13px;top:820.32px;font-size:8.9px;line-height:12px;letter-spacing:0.047px;color:#3d4452;">13,851</span><div class="b" style="left:756.7px;top:826px;width:121.2px;height:2px;background:#f4f5f8;border-radius:1px;"><div class="b" style="left:0;top:0;height:2px;width:63.02px;background:#188ae2;border-radius:1px"></div></div>
<div class="b" style="left:900.7px;top:650px;width:330.8px;height:188px;background:#fff;border-radius:3px;box-shadow:0 0 2px rgba(50,60,80,.13);"></div><h2 class="t" style="left:916.63px;top:665.83px;font-size:10.3px;line-height:13px;letter-spacing:0.481px;font-weight:700;color:#343a46;">Engagement Overview</h2><div class="b" style="left:1167.5px;top:662.2px;width:47.8px;height:20.6px;background:#eef1f5;border-radius:2.5px;"></div><span class="t" style="left:1176.1px;top:666.69px;font-size:8.7px;line-height:11px;letter-spacing:0.199px;color:#3c4350;">Export</span><div class="b" style="left:900.7px;top:695px;width:330.8px;height:25px;background:#fafbfc;box-shadow:inset 0 1px 0 #eceef2,inset 0 -1px 0 #eceef2;"></div><span class="t" style="left:905.91px;top:701.45px;font-size:9.1px;line-height:12px;letter-spacing:0.128px;font-weight:700;color:#3c4350;">Duration (Secs)</span><span class="t" style="left:1038.27px;top:701.45px;font-size:9.1px;line-height:12px;letter-spacing:-0.129px;font-weight:700;color:#3c4350;">Sessions</span><span class="t" style="left:1137.75px;top:701.45px;font-size:9.1px;line-height:12px;letter-spacing:0.312px;font-weight:700;color:#3c4350;">Views</span><span class="t" style="left:906.19px;top:725.32px;font-size:8.9px;line-height:12px;letter-spacing:0.108px;color:#3d4452;">0-30</span><span class="t" style="left:1038.06px;top:725.32px;font-size:8.9px;line-height:12px;letter-spacing:0.027px;color:#3d4452;">2,250</span><span class="t" style="left:1137.62px;top:725.32px;font-size:8.9px;line-height:12px;letter-spacing:-0.04px;color:#3d4452;">4,250</span><span class="t" style="left:906.19px;top:749.07px;font-size:8.9px;line-height:12px;letter-spacing:0.096px;color:#3d4452;">31-60</span><span class="t" style="left:1037.83px;top:749.07px;font-size:8.9px;line-height:12px;letter-spacing:0.105px;color:#3d4452;">1,501</span><span class="t" style="left:1137.36px;top:749.07px;font-size:8.9px;line-height:12px;letter-spacing:0.027px;color:#3d4452;">2,050</span><span class="t" style="left:906.05px;top:772.82px;font-size:8.9px;line-height:12px;letter-spacing:0.107px;color:#3d4452;">61-120</span><span class="t" style="left:1038.06px;top:772.82px;font-size:8.9px;line-height:12px;letter-spacing:0.319px;color:#3d4452;">750</span><span class="t" style="left:1137.13px;top:772.82px;font-size:8.9px;line-height:12px;letter-spacing:0.082px;color:#3d4452;">1,600</span><span class="t" style="left:905.83px;top:796.57px;font-size:8.9px;line-height:12px;letter-spacing:0.136px;color:#3d4452;">121-240</span><span class="t" style="left:1038.14px;top:796.57px;font-size:8.9px;line-height:12px;letter-spacing:0.274px;color:#3d4452;">540</span><span class="t" style="left:1137.13px;top:796.57px;font-size:8.9px;line-height:12px;letter-spacing:0.082px;color:#3d4452;">1,040</span><span class="t" style="left:905.83px;top:820.32px;font-size:8.9px;line-height:12px;letter-spacing:0.136px;color:#3d4452;">141-420</span><span class="t" style="left:1038.14px;top:820.32px;font-size:8.9px;line-height:12px;letter-spacing:0.633px;color:#3d4452;">56</span><span class="t" style="left:1137.44px;top:820.32px;font-size:8.9px;line-height:12px;letter-spacing:0.297px;color:#3d4452;">886</span>
</main>
<footer>
<div class="b" style="left:188px;top:855px;width:1060px;height:0px;border-top:1px solid #e7e9ec;"></div>
<span class="t" style="left:200.15px;top:868.08px;font-size:9px;line-height:12px;letter-spacing:-0.106px;color:#5d6573;">2025 © Zircos - By</span>
<span class="t" style="left:275.66px;top:868.79px;font-size:8.4px;line-height:11px;letter-spacing:-0.598px;font-weight:700;color:#4a5160;text-decoration:underline;text-decoration-thickness:.7px;text-underline-offset:1.2px;text-decoration-color:#7b8290;">CODERTHEMES</span>
<span class="t" style="left:1098.8px;top:868.08px;font-size:9px;line-height:12px;letter-spacing:0.227px;color:#5d6573;">About</span>
<span class="t" style="left:1140.89px;top:868.08px;font-size:9px;line-height:12px;letter-spacing:0.284px;color:#5d6573;">Support</span>
<span class="t" style="left:1191.95px;top:868.08px;font-size:9px;line-height:12px;letter-spacing:0.007px;color:#5d6573;">Contact Us</span>
</footer>
</body>
</html>
